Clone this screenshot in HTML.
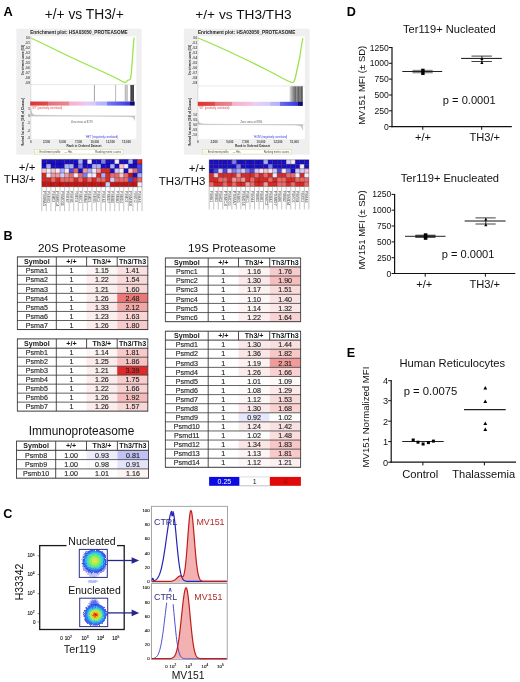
<!DOCTYPE html>
<html><head><meta charset="utf-8"><title>Figure</title>
<style>
html,body{margin:0;padding:0;background:#fff;}
body{width:520px;height:682px;overflow:hidden;}
svg{display:block;will-change:transform;font-family:"Liberation Sans",sans-serif;}
</style></head><body>
<svg width="520" height="682" viewBox="0 0 520 682">
<rect x="0" y="0" width="520" height="682" fill="#ffffff"/>
<g id="panelA">
<text x="3.4" y="16.0" font-size="12.8" text-anchor="start" font-weight="bold" fill="#000" >A</text>
<text x="84.2" y="19.0" font-size="13.8" text-anchor="middle" font-weight="normal" fill="#111" >+/+ vs TH3/+</text>
<text x="243.5" y="19.0" font-size="13.7" text-anchor="middle" font-weight="normal" fill="#111" >+/+ vs TH3/TH3</text>
<rect x="16.3" y="28.7" width="125.3" height="126" fill="#efefef"/>
<rect x="30.8" y="36.3" width="105.50000000000001" height="102.7" fill="#ffffff"/>
<text x="30.2" y="33.6" font-size="4.7" font-weight="bold" fill="#222" textLength="97.5" lengthAdjust="spacingAndGlyphs">Enrichment plot: HSA03050_PROTEASOME</text>
<line x1="30.8" y1="84.6" x2="136.3" y2="84.6" stroke="#d8d8d8" stroke-width="0.6"/>
<line x1="30.8" y1="36.3" x2="30.8" y2="139" stroke="#c8c8c8" stroke-width="0.6"/>
<polyline points="31,38 40,42.3 60,52 80,61.5 100,70.5 115,77.5 121,80.8 124.8,82.6 126.5,81.8 127.8,80.2 129.3,80 130.6,78.6 131.4,72 132.2,62 133,50 133.8,40 134.3,37.6" fill="none" stroke="#96e446" stroke-width="1.25" stroke-linejoin="round"/>
<line x1="94.4" y1="85" x2="94.4" y2="101.5" stroke="#444" stroke-width="0.5"/>
<line x1="115.6" y1="85" x2="115.6" y2="101.5" stroke="#777" stroke-width="0.5"/>
<rect x="124.8" y="85" width="3.2" height="16.5" fill="#c8c8c8"/>
<line x1="125.2" y1="85" x2="125.2" y2="101.5" stroke="#999" stroke-width="0.4"/>
<rect x="130.4" y="85" width="3.6" height="16.5" fill="#55555a"/>
<line x1="131.2" y1="85" x2="131.2" y2="101.5" stroke="#222" stroke-width="0.5"/>
<line x1="133.2" y1="85" x2="133.2" y2="101.5" stroke="#222" stroke-width="0.5"/>
<defs><linearGradient id="barL" x1="0" x2="1" y1="0" y2="0"><stop offset="0.000" stop-color="#dc3434"/><stop offset="0.172" stop-color="#e04c4c"/><stop offset="0.172" stop-color="#e4707c"/><stop offset="0.371" stop-color="#e88892"/><stop offset="0.371" stop-color="#f4b0cc"/><stop offset="0.514" stop-color="#f4c0e0"/><stop offset="0.514" stop-color="#e4ccf4"/><stop offset="0.625" stop-color="#d4c8f8"/><stop offset="0.625" stop-color="#c0bcfa"/><stop offset="0.736" stop-color="#b0b0fa"/><stop offset="0.736" stop-color="#7c7cf2"/><stop offset="0.956" stop-color="#3838e0"/><stop offset="0.956" stop-color="#101088"/><stop offset="1.000" stop-color="#08086a"/></linearGradient></defs>
<rect x="30.2" y="101.5" width="104.5" height="4.1" fill="url(#barL)"/>
<path d="M30.8,116 L30.8,107.5 C31.3,113 32,114.6 36,115.2 L60,115.7 L95,116 L125,116.4 L131,116.8 C133.5,117.2 134.3,118.5 134.6,120.4 L134.6,116 Z" fill="#c4c4c4" stroke="#a8a8a8" stroke-width="0.3"/>
<line x1="30.8" y1="116" x2="136.3" y2="116" stroke="#cfcfcf" stroke-width="0.5"/>
<text x="31.8" y="108.6" font-size="2.6" fill="#e04040">'WT' (positively correlated)</text>
<text x="85.4" y="137.6" font-size="2.6" fill="#3030e0">'HET' (negatively correlated)</text>
<text x="71" y="123" font-size="2.6" fill="#555">Zero cross at 8179</text>
<text x="29.8" y="39.4" font-size="2.7" font-weight="bold" text-anchor="end" fill="#333">0.0</text>
<text x="29.8" y="44.4" font-size="2.7" font-weight="bold" text-anchor="end" fill="#333">-0.1</text>
<text x="29.8" y="49.4" font-size="2.7" font-weight="bold" text-anchor="end" fill="#333">-0.2</text>
<text x="29.8" y="54.4" font-size="2.7" font-weight="bold" text-anchor="end" fill="#333">-0.3</text>
<text x="29.8" y="59.4" font-size="2.7" font-weight="bold" text-anchor="end" fill="#333">-0.4</text>
<text x="29.8" y="64.4" font-size="2.7" font-weight="bold" text-anchor="end" fill="#333">-0.5</text>
<text x="29.8" y="69.39999999999999" font-size="2.7" font-weight="bold" text-anchor="end" fill="#333">-0.6</text>
<text x="29.8" y="74.39999999999999" font-size="2.7" font-weight="bold" text-anchor="end" fill="#333">-0.7</text>
<text x="29.8" y="79.39999999999999" font-size="2.7" font-weight="bold" text-anchor="end" fill="#333">-0.8</text>
<text x="29.8" y="84.39999999999999" font-size="2.7" font-weight="bold" text-anchor="end" fill="#333">-0.9</text>
<text x="29.8" y="109.50" font-size="2.7" font-weight="bold" text-anchor="end" fill="#333">1</text>
<text x="29.8" y="116.90" font-size="2.7" font-weight="bold" text-anchor="end" fill="#333">0</text>
<text x="29.8" y="124.30" font-size="2.7" font-weight="bold" text-anchor="end" fill="#333">-1</text>
<text x="29.8" y="131.70" font-size="2.7" font-weight="bold" text-anchor="end" fill="#333">-2</text>
<text x="29.8" y="139.10" font-size="2.7" font-weight="bold" text-anchor="end" fill="#333">-3</text>
<text transform="translate(23.8,60) rotate(-90)" font-size="2.8" font-weight="bold" text-anchor="middle" fill="#222">Enrichment score (ES)</text>
<text transform="translate(23.8,122) rotate(-90)" font-size="2.8" font-weight="bold" text-anchor="middle" fill="#222">Ranked list metric (Diff_of_Classes)</text>
<text x="30.8" y="142.6" font-size="2.9" font-weight="bold" text-anchor="middle" fill="#444">0</text>
<text x="46.5" y="142.6" font-size="2.9" font-weight="bold" text-anchor="middle" fill="#444">2,500</text>
<text x="62.5" y="142.6" font-size="2.9" font-weight="bold" text-anchor="middle" fill="#444">5,000</text>
<text x="78.5" y="142.6" font-size="2.9" font-weight="bold" text-anchor="middle" fill="#444">7,500</text>
<text x="94.8" y="142.6" font-size="2.9" font-weight="bold" text-anchor="middle" fill="#444">10,000</text>
<text x="110.5" y="142.6" font-size="2.9" font-weight="bold" text-anchor="middle" fill="#444">12,500</text>
<text x="126.5" y="142.6" font-size="2.9" font-weight="bold" text-anchor="middle" fill="#444">15,000</text>
<text x="84" y="146.8" font-size="3.0" font-weight="bold" text-anchor="middle" fill="#333">Rank in Ordered Dataset</text>
<rect x="34.6" y="149.6" width="88.4" height="4.4" fill="#ffffff" stroke="#d8d48a" stroke-width="0.5"/>
<text x="39.6" y="153" font-size="2.6" fill="#444">Enrichment profile</text>
<line x1="35.6" y1="152" x2="38.6" y2="152" stroke="#8ee23a" stroke-width="0.5"/>
<text x="64.6" y="153" font-size="2.6" fill="#444">— Hits</text>
<text x="121" y="153" font-size="2.6" fill="#444" text-anchor="end">Ranking metric scores</text>
<rect x="183.8" y="28.7" width="125.80000000000001" height="126" fill="#efefef"/>
<rect x="197.9" y="36.3" width="106.9" height="102.7" fill="#ffffff"/>
<text x="197.9" y="33.6" font-size="4.7" font-weight="bold" fill="#222" textLength="97.5" lengthAdjust="spacingAndGlyphs">Enrichment plot: HSA03050_PROTEASOME</text>
<line x1="197.9" y1="86.0" x2="304.8" y2="86.0" stroke="#d8d8d8" stroke-width="0.6"/>
<line x1="197.9" y1="36.3" x2="197.9" y2="139" stroke="#c8c8c8" stroke-width="0.6"/>
<polyline points="198,38 210,43 230,52 250,61.5 270,71.5 283,78.5 288,81 291,82.3 293,82.5 294.2,81.2 295.5,77 297,70 298.5,63 299.8,57 300.8,50 301.8,44 302.5,40 302.9,38.2" fill="none" stroke="#96e446" stroke-width="1.25" stroke-linejoin="round"/>
<defs><linearGradient id="hitR" x1="0" x2="1" y1="0" y2="0">
<stop offset="0" stop-color="#e8e8e8"/><stop offset="0.12" stop-color="#bdbdbd"/><stop offset="0.3" stop-color="#8c8c8c"/><stop offset="0.45" stop-color="#6a6a6a"/><stop offset="0.55" stop-color="#9a9a9a"/><stop offset="0.65" stop-color="#5c5c5c"/><stop offset="0.8" stop-color="#8a8a8a"/><stop offset="0.9" stop-color="#5a5a5a"/><stop offset="1" stop-color="#7a7a7a"/></linearGradient></defs>
<rect x="289.4" y="86.3" width="13.5" height="15.7" fill="url(#hitR)"/>
<defs><linearGradient id="barR" x1="0" x2="1" y1="0" y2="0"><stop offset="0.000" stop-color="#dc3434"/><stop offset="0.164" stop-color="#e04c4c"/><stop offset="0.164" stop-color="#e4707c"/><stop offset="0.321" stop-color="#e88892"/><stop offset="0.321" stop-color="#f4b0c8"/><stop offset="0.521" stop-color="#f4c4e0"/><stop offset="0.521" stop-color="#e8d0f4"/><stop offset="0.692" stop-color="#d4ccf8"/><stop offset="0.692" stop-color="#c0bcfa"/><stop offset="0.785" stop-color="#b0b0fa"/><stop offset="0.785" stop-color="#6c6cf0"/><stop offset="0.956" stop-color="#3434e0"/><stop offset="0.956" stop-color="#101088"/><stop offset="1.000" stop-color="#08086a"/></linearGradient></defs>
<rect x="197.8" y="101.8" width="105" height="4.1" fill="url(#barR)"/>
<path d="M197.9,124.6 L197.9,119.5 C198.6,122.5 199.5,123.6 204,124 L230,124.4 L270,124.7 L295,125 L299,125.4 C301.5,126 302.4,127.5 302.7,130 L302.7,124.6 Z" fill="#c4c4c4" stroke="#a8a8a8" stroke-width="0.3"/>
<line x1="197.9" y1="124.6" x2="304.8" y2="124.6" stroke="#cfcfcf" stroke-width="0.5"/>
<text x="198.9" y="108.6" font-size="2.6" fill="#e04040">'WT' (positively correlated)</text>
<text x="253.8" y="137.6" font-size="2.6" fill="#3030e0">'HOM' (negatively correlated)</text>
<text x="240.6" y="123" font-size="2.6" fill="#555">Zero cross at 8590</text>
<text x="196.9" y="39.4" font-size="2.7" font-weight="bold" text-anchor="end" fill="#333">0.0</text>
<text x="196.9" y="44.4" font-size="2.7" font-weight="bold" text-anchor="end" fill="#333">-0.1</text>
<text x="196.9" y="49.4" font-size="2.7" font-weight="bold" text-anchor="end" fill="#333">-0.2</text>
<text x="196.9" y="54.4" font-size="2.7" font-weight="bold" text-anchor="end" fill="#333">-0.3</text>
<text x="196.9" y="59.4" font-size="2.7" font-weight="bold" text-anchor="end" fill="#333">-0.4</text>
<text x="196.9" y="64.4" font-size="2.7" font-weight="bold" text-anchor="end" fill="#333">-0.5</text>
<text x="196.9" y="69.39999999999999" font-size="2.7" font-weight="bold" text-anchor="end" fill="#333">-0.6</text>
<text x="196.9" y="74.39999999999999" font-size="2.7" font-weight="bold" text-anchor="end" fill="#333">-0.7</text>
<text x="196.9" y="79.39999999999999" font-size="2.7" font-weight="bold" text-anchor="end" fill="#333">-0.8</text>
<text x="196.9" y="84.39999999999999" font-size="2.7" font-weight="bold" text-anchor="end" fill="#333">-0.9</text>
<text x="196.9" y="115.50" font-size="2.7" font-weight="bold" text-anchor="end" fill="#333">1.0</text>
<text x="196.9" y="120.50" font-size="2.7" font-weight="bold" text-anchor="end" fill="#333">0.5</text>
<text x="196.9" y="125.50" font-size="2.7" font-weight="bold" text-anchor="end" fill="#333">0.0</text>
<text x="196.9" y="130.50" font-size="2.7" font-weight="bold" text-anchor="end" fill="#333">-0.5</text>
<text x="196.9" y="135.50" font-size="2.7" font-weight="bold" text-anchor="end" fill="#333">-1.0</text>
<text transform="translate(190.9,60) rotate(-90)" font-size="2.8" font-weight="bold" text-anchor="middle" fill="#222">Enrichment score (ES)</text>
<text transform="translate(190.9,122) rotate(-90)" font-size="2.8" font-weight="bold" text-anchor="middle" fill="#222">Ranked list metric (Diff_of_Classes)</text>
<text x="197.9" y="142.6" font-size="2.9" font-weight="bold" text-anchor="middle" fill="#444">0</text>
<text x="214" y="142.6" font-size="2.9" font-weight="bold" text-anchor="middle" fill="#444">2,500</text>
<text x="229.8" y="142.6" font-size="2.9" font-weight="bold" text-anchor="middle" fill="#444">5,000</text>
<text x="245.6" y="142.6" font-size="2.9" font-weight="bold" text-anchor="middle" fill="#444">7,500</text>
<text x="261" y="142.6" font-size="2.9" font-weight="bold" text-anchor="middle" fill="#444">10,000</text>
<text x="278" y="142.6" font-size="2.9" font-weight="bold" text-anchor="middle" fill="#444">12,500</text>
<text x="294.4" y="142.6" font-size="2.9" font-weight="bold" text-anchor="middle" fill="#444">15,000</text>
<text x="252.6" y="146.8" font-size="3.0" font-weight="bold" text-anchor="middle" fill="#333">Rank in Ordered Dataset</text>
<rect x="202.7" y="149.6" width="88.60000000000002" height="4.4" fill="#ffffff" stroke="#d8d48a" stroke-width="0.5"/>
<text x="207.7" y="153" font-size="2.6" fill="#444">Enrichment profile</text>
<line x1="203.7" y1="152" x2="206.7" y2="152" stroke="#8ee23a" stroke-width="0.5"/>
<text x="232.7" y="153" font-size="2.6" fill="#444">— Hits</text>
<text x="289.3" y="153" font-size="2.6" fill="#444" text-anchor="end">Ranking metric scores</text>
<rect x="41.80" y="159.40" width="4.60" height="4.60" fill="#1a0fc4"/>
<rect x="46.35" y="159.40" width="4.60" height="4.60" fill="#1a0fc4"/>
<rect x="50.91" y="159.40" width="4.60" height="4.60" fill="#1a0fc4"/>
<rect x="55.46" y="159.40" width="4.60" height="4.60" fill="#1a0fc4"/>
<rect x="60.02" y="159.40" width="4.60" height="4.60" fill="#1a0fc4"/>
<rect x="64.57" y="159.40" width="4.60" height="4.60" fill="#1a0fc4"/>
<rect x="69.13" y="159.40" width="4.60" height="4.60" fill="#1a0fc4"/>
<rect x="73.69" y="159.40" width="4.60" height="4.60" fill="#1a0fc4"/>
<rect x="78.24" y="159.40" width="4.60" height="4.60" fill="#a9b0fa"/>
<rect x="82.79" y="159.40" width="4.60" height="4.60" fill="#1a0fc4"/>
<rect x="87.35" y="159.40" width="4.60" height="4.60" fill="#f4ecf8"/>
<rect x="91.91" y="159.40" width="4.60" height="4.60" fill="#1a0fc4"/>
<rect x="96.46" y="159.40" width="4.60" height="4.60" fill="#1a0fc4"/>
<rect x="101.01" y="159.40" width="4.60" height="4.60" fill="#7b7df0"/>
<rect x="105.57" y="159.40" width="4.60" height="4.60" fill="#1a0fc4"/>
<rect x="110.12" y="159.40" width="4.60" height="4.60" fill="#1a0fc4"/>
<rect x="114.68" y="159.40" width="4.60" height="4.60" fill="#f4ecf8"/>
<rect x="119.23" y="159.40" width="4.60" height="4.60" fill="#1a0fc4"/>
<rect x="123.79" y="159.40" width="4.60" height="4.60" fill="#1a0fc4"/>
<rect x="128.34" y="159.40" width="4.60" height="4.60" fill="#a9b0fa"/>
<rect x="132.90" y="159.40" width="4.60" height="4.60" fill="#1a0fc4"/>
<rect x="137.45" y="159.40" width="4.60" height="4.60" fill="#dc2a22"/>
<rect x="41.80" y="163.95" width="4.60" height="4.60" fill="#1a0fc4"/>
<rect x="46.35" y="163.95" width="4.60" height="4.60" fill="#a9b0fa"/>
<rect x="50.91" y="163.95" width="4.60" height="4.60" fill="#1a0fc4"/>
<rect x="55.46" y="163.95" width="4.60" height="4.60" fill="#1a0fc4"/>
<rect x="60.02" y="163.95" width="4.60" height="4.60" fill="#1a0fc4"/>
<rect x="64.57" y="163.95" width="4.60" height="4.60" fill="#a9b0fa"/>
<rect x="69.13" y="163.95" width="4.60" height="4.60" fill="#a9b0fa"/>
<rect x="73.69" y="163.95" width="4.60" height="4.60" fill="#1a0fc4"/>
<rect x="78.24" y="163.95" width="4.60" height="4.60" fill="#7b7df0"/>
<rect x="82.79" y="163.95" width="4.60" height="4.60" fill="#1a0fc4"/>
<rect x="87.35" y="163.95" width="4.60" height="4.60" fill="#1a0fc4"/>
<rect x="91.91" y="163.95" width="4.60" height="4.60" fill="#a9b0fa"/>
<rect x="96.46" y="163.95" width="4.60" height="4.60" fill="#a9b0fa"/>
<rect x="101.01" y="163.95" width="4.60" height="4.60" fill="#1a0fc4"/>
<rect x="105.57" y="163.95" width="4.60" height="4.60" fill="#1a0fc4"/>
<rect x="110.12" y="163.95" width="4.60" height="4.60" fill="#a9b0fa"/>
<rect x="114.68" y="163.95" width="4.60" height="4.60" fill="#1a0fc4"/>
<rect x="119.23" y="163.95" width="4.60" height="4.60" fill="#f6c6cc"/>
<rect x="123.79" y="163.95" width="4.60" height="4.60" fill="#f4ecf8"/>
<rect x="128.34" y="163.95" width="4.60" height="4.60" fill="#1a0fc4"/>
<rect x="132.90" y="163.95" width="4.60" height="4.60" fill="#1a0fc4"/>
<rect x="137.45" y="163.95" width="4.60" height="4.60" fill="#4a49e0"/>
<rect x="41.80" y="168.50" width="4.60" height="4.60" fill="#f6c6cc"/>
<rect x="46.35" y="168.50" width="4.60" height="4.60" fill="#f4ecf8"/>
<rect x="50.91" y="168.50" width="4.60" height="4.60" fill="#f6c6cc"/>
<rect x="55.46" y="168.50" width="4.60" height="4.60" fill="#f4ecf8"/>
<rect x="60.02" y="168.50" width="4.60" height="4.60" fill="#a9b0fa"/>
<rect x="64.57" y="168.50" width="4.60" height="4.60" fill="#f4ecf8"/>
<rect x="69.13" y="168.50" width="4.60" height="4.60" fill="#4a49e0"/>
<rect x="73.69" y="168.50" width="4.60" height="4.60" fill="#ec6a66"/>
<rect x="78.24" y="168.50" width="4.60" height="4.60" fill="#1a0fc4"/>
<rect x="82.79" y="168.50" width="4.60" height="4.60" fill="#f09a9a"/>
<rect x="87.35" y="168.50" width="4.60" height="4.60" fill="#a9b0fa"/>
<rect x="91.91" y="168.50" width="4.60" height="4.60" fill="#f4ecf8"/>
<rect x="96.46" y="168.50" width="4.60" height="4.60" fill="#f09a9a"/>
<rect x="101.01" y="168.50" width="4.60" height="4.60" fill="#dc2a22"/>
<rect x="105.57" y="168.50" width="4.60" height="4.60" fill="#dc2a22"/>
<rect x="110.12" y="168.50" width="4.60" height="4.60" fill="#1a0fc4"/>
<rect x="114.68" y="168.50" width="4.60" height="4.60" fill="#d4cdf8"/>
<rect x="119.23" y="168.50" width="4.60" height="4.60" fill="#f4ecf8"/>
<rect x="123.79" y="168.50" width="4.60" height="4.60" fill="#1a0fc4"/>
<rect x="128.34" y="168.50" width="4.60" height="4.60" fill="#f6c6cc"/>
<rect x="132.90" y="168.50" width="4.60" height="4.60" fill="#ec6a66"/>
<rect x="137.45" y="168.50" width="4.60" height="4.60" fill="#4a49e0"/>
<rect x="41.80" y="173.05" width="4.60" height="4.60" fill="#dc2a22"/>
<rect x="46.35" y="173.05" width="4.60" height="4.60" fill="#f4ecf8"/>
<rect x="50.91" y="173.05" width="4.60" height="4.60" fill="#f09a9a"/>
<rect x="55.46" y="173.05" width="4.60" height="4.60" fill="#f09a9a"/>
<rect x="60.02" y="173.05" width="4.60" height="4.60" fill="#d4cdf8"/>
<rect x="64.57" y="173.05" width="4.60" height="4.60" fill="#f09a9a"/>
<rect x="69.13" y="173.05" width="4.60" height="4.60" fill="#ec6a66"/>
<rect x="73.69" y="173.05" width="4.60" height="4.60" fill="#f4ecf8"/>
<rect x="78.24" y="173.05" width="4.60" height="4.60" fill="#ec6a66"/>
<rect x="82.79" y="173.05" width="4.60" height="4.60" fill="#7b7df0"/>
<rect x="87.35" y="173.05" width="4.60" height="4.60" fill="#f4ecf8"/>
<rect x="91.91" y="173.05" width="4.60" height="4.60" fill="#f4ecf8"/>
<rect x="96.46" y="173.05" width="4.60" height="4.60" fill="#dc2a22"/>
<rect x="101.01" y="173.05" width="4.60" height="4.60" fill="#a9b0fa"/>
<rect x="105.57" y="173.05" width="4.60" height="4.60" fill="#dc2a22"/>
<rect x="110.12" y="173.05" width="4.60" height="4.60" fill="#ec6a66"/>
<rect x="114.68" y="173.05" width="4.60" height="4.60" fill="#ec6a66"/>
<rect x="119.23" y="173.05" width="4.60" height="4.60" fill="#f6c6cc"/>
<rect x="123.79" y="173.05" width="4.60" height="4.60" fill="#ec6a66"/>
<rect x="128.34" y="173.05" width="4.60" height="4.60" fill="#c8140c"/>
<rect x="132.90" y="173.05" width="4.60" height="4.60" fill="#1a0fc4"/>
<rect x="137.45" y="173.05" width="4.60" height="4.60" fill="#a9b0fa"/>
<rect x="41.80" y="177.60" width="4.60" height="4.60" fill="#dc2a22"/>
<rect x="46.35" y="177.60" width="4.60" height="4.60" fill="#dc2a22"/>
<rect x="50.91" y="177.60" width="4.60" height="4.60" fill="#ec6a66"/>
<rect x="55.46" y="177.60" width="4.60" height="4.60" fill="#dc2a22"/>
<rect x="60.02" y="177.60" width="4.60" height="4.60" fill="#ec6a66"/>
<rect x="64.57" y="177.60" width="4.60" height="4.60" fill="#ec6a66"/>
<rect x="69.13" y="177.60" width="4.60" height="4.60" fill="#ec6a66"/>
<rect x="73.69" y="177.60" width="4.60" height="4.60" fill="#dc2a22"/>
<rect x="78.24" y="177.60" width="4.60" height="4.60" fill="#ec6a66"/>
<rect x="82.79" y="177.60" width="4.60" height="4.60" fill="#dc2a22"/>
<rect x="87.35" y="177.60" width="4.60" height="4.60" fill="#ec6a66"/>
<rect x="91.91" y="177.60" width="4.60" height="4.60" fill="#dc2a22"/>
<rect x="96.46" y="177.60" width="4.60" height="4.60" fill="#ec6a66"/>
<rect x="101.01" y="177.60" width="4.60" height="4.60" fill="#ec6a66"/>
<rect x="105.57" y="177.60" width="4.60" height="4.60" fill="#dc2a22"/>
<rect x="110.12" y="177.60" width="4.60" height="4.60" fill="#d4cdf8"/>
<rect x="114.68" y="177.60" width="4.60" height="4.60" fill="#ec6a66"/>
<rect x="119.23" y="177.60" width="4.60" height="4.60" fill="#ec6a66"/>
<rect x="123.79" y="177.60" width="4.60" height="4.60" fill="#ec6a66"/>
<rect x="128.34" y="177.60" width="4.60" height="4.60" fill="#4a49e0"/>
<rect x="132.90" y="177.60" width="4.60" height="4.60" fill="#dc2a22"/>
<rect x="137.45" y="177.60" width="4.60" height="4.60" fill="#ec6a66"/>
<rect x="41.80" y="182.15" width="4.60" height="4.60" fill="#c8140c"/>
<rect x="46.35" y="182.15" width="4.60" height="4.60" fill="#c8140c"/>
<rect x="50.91" y="182.15" width="4.60" height="4.60" fill="#c8140c"/>
<rect x="55.46" y="182.15" width="4.60" height="4.60" fill="#c8140c"/>
<rect x="60.02" y="182.15" width="4.60" height="4.60" fill="#c8140c"/>
<rect x="64.57" y="182.15" width="4.60" height="4.60" fill="#c8140c"/>
<rect x="69.13" y="182.15" width="4.60" height="4.60" fill="#c8140c"/>
<rect x="73.69" y="182.15" width="4.60" height="4.60" fill="#c8140c"/>
<rect x="78.24" y="182.15" width="4.60" height="4.60" fill="#c8140c"/>
<rect x="82.79" y="182.15" width="4.60" height="4.60" fill="#c8140c"/>
<rect x="87.35" y="182.15" width="4.60" height="4.60" fill="#c8140c"/>
<rect x="91.91" y="182.15" width="4.60" height="4.60" fill="#c8140c"/>
<rect x="96.46" y="182.15" width="4.60" height="4.60" fill="#c8140c"/>
<rect x="101.01" y="182.15" width="4.60" height="4.60" fill="#c8140c"/>
<rect x="105.57" y="182.15" width="4.60" height="4.60" fill="#d4cdf8"/>
<rect x="110.12" y="182.15" width="4.60" height="4.60" fill="#c8140c"/>
<rect x="114.68" y="182.15" width="4.60" height="4.60" fill="#c8140c"/>
<rect x="119.23" y="182.15" width="4.60" height="4.60" fill="#c8140c"/>
<rect x="123.79" y="182.15" width="4.60" height="4.60" fill="#c8140c"/>
<rect x="128.34" y="182.15" width="4.60" height="4.60" fill="#c8140c"/>
<rect x="132.90" y="182.15" width="4.60" height="4.60" fill="#c8140c"/>
<rect x="137.45" y="182.15" width="4.60" height="4.60" fill="#f4ecf8"/>
<line x1="41.80" y1="159.4" x2="41.80" y2="186.7" stroke="#0c0020" stroke-opacity="0.55" stroke-width="0.55"/>
<line x1="46.35" y1="159.4" x2="46.35" y2="186.7" stroke="#0c0020" stroke-opacity="0.55" stroke-width="0.55"/>
<line x1="50.91" y1="159.4" x2="50.91" y2="186.7" stroke="#0c0020" stroke-opacity="0.55" stroke-width="0.55"/>
<line x1="55.46" y1="159.4" x2="55.46" y2="186.7" stroke="#0c0020" stroke-opacity="0.55" stroke-width="0.55"/>
<line x1="60.02" y1="159.4" x2="60.02" y2="186.7" stroke="#0c0020" stroke-opacity="0.55" stroke-width="0.55"/>
<line x1="64.57" y1="159.4" x2="64.57" y2="186.7" stroke="#0c0020" stroke-opacity="0.55" stroke-width="0.55"/>
<line x1="69.13" y1="159.4" x2="69.13" y2="186.7" stroke="#0c0020" stroke-opacity="0.55" stroke-width="0.55"/>
<line x1="73.69" y1="159.4" x2="73.69" y2="186.7" stroke="#0c0020" stroke-opacity="0.55" stroke-width="0.55"/>
<line x1="78.24" y1="159.4" x2="78.24" y2="186.7" stroke="#0c0020" stroke-opacity="0.55" stroke-width="0.55"/>
<line x1="82.79" y1="159.4" x2="82.79" y2="186.7" stroke="#0c0020" stroke-opacity="0.55" stroke-width="0.55"/>
<line x1="87.35" y1="159.4" x2="87.35" y2="186.7" stroke="#0c0020" stroke-opacity="0.55" stroke-width="0.55"/>
<line x1="91.91" y1="159.4" x2="91.91" y2="186.7" stroke="#0c0020" stroke-opacity="0.55" stroke-width="0.55"/>
<line x1="96.46" y1="159.4" x2="96.46" y2="186.7" stroke="#0c0020" stroke-opacity="0.55" stroke-width="0.55"/>
<line x1="101.01" y1="159.4" x2="101.01" y2="186.7" stroke="#0c0020" stroke-opacity="0.55" stroke-width="0.55"/>
<line x1="105.57" y1="159.4" x2="105.57" y2="186.7" stroke="#0c0020" stroke-opacity="0.55" stroke-width="0.55"/>
<line x1="110.12" y1="159.4" x2="110.12" y2="186.7" stroke="#0c0020" stroke-opacity="0.55" stroke-width="0.55"/>
<line x1="114.68" y1="159.4" x2="114.68" y2="186.7" stroke="#0c0020" stroke-opacity="0.55" stroke-width="0.55"/>
<line x1="119.23" y1="159.4" x2="119.23" y2="186.7" stroke="#0c0020" stroke-opacity="0.55" stroke-width="0.55"/>
<line x1="123.79" y1="159.4" x2="123.79" y2="186.7" stroke="#0c0020" stroke-opacity="0.55" stroke-width="0.55"/>
<line x1="128.34" y1="159.4" x2="128.34" y2="186.7" stroke="#0c0020" stroke-opacity="0.55" stroke-width="0.55"/>
<line x1="132.90" y1="159.4" x2="132.90" y2="186.7" stroke="#0c0020" stroke-opacity="0.55" stroke-width="0.55"/>
<line x1="137.45" y1="159.4" x2="137.45" y2="186.7" stroke="#0c0020" stroke-opacity="0.55" stroke-width="0.55"/>
<line x1="142.01" y1="159.4" x2="142.01" y2="186.7" stroke="#0c0020" stroke-opacity="0.55" stroke-width="0.55"/>
<line x1="41.8" y1="159.40" x2="142.01" y2="159.40" stroke="#0c0020" stroke-opacity="0.55" stroke-width="0.55"/>
<line x1="41.8" y1="163.95" x2="142.01" y2="163.95" stroke="#0c0020" stroke-opacity="0.55" stroke-width="0.55"/>
<line x1="41.8" y1="168.50" x2="142.01" y2="168.50" stroke="#0c0020" stroke-opacity="0.55" stroke-width="0.55"/>
<line x1="41.8" y1="173.05" x2="142.01" y2="173.05" stroke="#0c0020" stroke-opacity="0.55" stroke-width="0.55"/>
<line x1="41.8" y1="177.60" x2="142.01" y2="177.60" stroke="#0c0020" stroke-opacity="0.55" stroke-width="0.55"/>
<line x1="41.8" y1="182.15" x2="142.01" y2="182.15" stroke="#0c0020" stroke-opacity="0.55" stroke-width="0.55"/>
<line x1="41.8" y1="186.70" x2="142.01" y2="186.70" stroke="#0c0020" stroke-opacity="0.55" stroke-width="0.55"/>
<line x1="41.80" y1="186.7" x2="41.80" y2="211.2" stroke="#9c9c9c" stroke-width="0.6"/>
<line x1="46.35" y1="186.7" x2="46.35" y2="211.2" stroke="#9c9c9c" stroke-width="0.6"/>
<line x1="50.91" y1="186.7" x2="50.91" y2="211.2" stroke="#9c9c9c" stroke-width="0.6"/>
<line x1="55.46" y1="186.7" x2="55.46" y2="211.2" stroke="#9c9c9c" stroke-width="0.6"/>
<line x1="60.02" y1="186.7" x2="60.02" y2="211.2" stroke="#9c9c9c" stroke-width="0.6"/>
<line x1="64.57" y1="186.7" x2="64.57" y2="211.2" stroke="#9c9c9c" stroke-width="0.6"/>
<line x1="69.13" y1="186.7" x2="69.13" y2="211.2" stroke="#9c9c9c" stroke-width="0.6"/>
<line x1="73.69" y1="186.7" x2="73.69" y2="211.2" stroke="#9c9c9c" stroke-width="0.6"/>
<line x1="78.24" y1="186.7" x2="78.24" y2="211.2" stroke="#9c9c9c" stroke-width="0.6"/>
<line x1="82.79" y1="186.7" x2="82.79" y2="211.2" stroke="#9c9c9c" stroke-width="0.6"/>
<line x1="87.35" y1="186.7" x2="87.35" y2="211.2" stroke="#9c9c9c" stroke-width="0.6"/>
<line x1="91.91" y1="186.7" x2="91.91" y2="211.2" stroke="#9c9c9c" stroke-width="0.6"/>
<line x1="96.46" y1="186.7" x2="96.46" y2="211.2" stroke="#9c9c9c" stroke-width="0.6"/>
<line x1="101.01" y1="186.7" x2="101.01" y2="211.2" stroke="#9c9c9c" stroke-width="0.6"/>
<line x1="105.57" y1="186.7" x2="105.57" y2="211.2" stroke="#9c9c9c" stroke-width="0.6"/>
<line x1="110.12" y1="186.7" x2="110.12" y2="211.2" stroke="#9c9c9c" stroke-width="0.6"/>
<line x1="114.68" y1="186.7" x2="114.68" y2="211.2" stroke="#9c9c9c" stroke-width="0.6"/>
<line x1="119.23" y1="186.7" x2="119.23" y2="211.2" stroke="#9c9c9c" stroke-width="0.6"/>
<line x1="123.79" y1="186.7" x2="123.79" y2="211.2" stroke="#9c9c9c" stroke-width="0.6"/>
<line x1="128.34" y1="186.7" x2="128.34" y2="211.2" stroke="#9c9c9c" stroke-width="0.6"/>
<line x1="132.90" y1="186.7" x2="132.90" y2="211.2" stroke="#9c9c9c" stroke-width="0.6"/>
<line x1="137.45" y1="186.7" x2="137.45" y2="211.2" stroke="#9c9c9c" stroke-width="0.6"/>
<line x1="142.01" y1="186.7" x2="142.01" y2="211.2" stroke="#9c9c9c" stroke-width="0.6"/>
<text transform="translate(42.83,191.1) rotate(90)" font-size="3.5" font-weight="bold" fill="#828282" textLength="15.2" lengthAdjust="spacingAndGlyphs">PSMA1</text>
<text transform="translate(47.38,191.1) rotate(90)" font-size="3.5" font-weight="bold" fill="#828282" textLength="11.7" lengthAdjust="spacingAndGlyphs">PSMB3</text>
<text transform="translate(51.94,191.1) rotate(90)" font-size="3.5" font-weight="bold" fill="#828282" textLength="11.1" lengthAdjust="spacingAndGlyphs">PSMD2</text>
<text transform="translate(56.49,191.1) rotate(90)" font-size="3.5" font-weight="bold" fill="#828282" textLength="15.5" lengthAdjust="spacingAndGlyphs">PSMC4</text>
<text transform="translate(61.05,191.1) rotate(90)" font-size="3.5" font-weight="bold" fill="#828282" textLength="14.8" lengthAdjust="spacingAndGlyphs">PSMD11</text>
<text transform="translate(65.60,191.1) rotate(90)" font-size="3.5" font-weight="bold" fill="#828282" textLength="11.6" lengthAdjust="spacingAndGlyphs">PSMA7</text>
<text transform="translate(70.16,191.1) rotate(90)" font-size="3.5" font-weight="bold" fill="#828282" textLength="11.6" lengthAdjust="spacingAndGlyphs">PSMB5</text>
<text transform="translate(74.71,191.1) rotate(90)" font-size="3.5" font-weight="bold" fill="#828282" textLength="11.2" lengthAdjust="spacingAndGlyphs">PSMD14</text>
<text transform="translate(79.27,191.1) rotate(90)" font-size="3.5" font-weight="bold" fill="#828282" textLength="12.0" lengthAdjust="spacingAndGlyphs">PSMC1</text>
<text transform="translate(83.82,191.1) rotate(90)" font-size="3.5" font-weight="bold" fill="#828282" textLength="11.9" lengthAdjust="spacingAndGlyphs">PSMA4</text>
<text transform="translate(88.38,191.1) rotate(90)" font-size="3.5" font-weight="bold" fill="#828282" textLength="11.1" lengthAdjust="spacingAndGlyphs">PSMD3</text>
<text transform="translate(92.93,191.1) rotate(90)" font-size="3.5" font-weight="bold" fill="#828282" textLength="11.7" lengthAdjust="spacingAndGlyphs">PSMB1</text>
<text transform="translate(97.49,191.1) rotate(90)" font-size="3.5" font-weight="bold" fill="#828282" textLength="11.0" lengthAdjust="spacingAndGlyphs">PSMC2</text>
<text transform="translate(102.04,191.1) rotate(90)" font-size="3.5" font-weight="bold" fill="#828282" textLength="11.6" lengthAdjust="spacingAndGlyphs">PSMA5</text>
<text transform="translate(106.60,191.1) rotate(90)" font-size="3.5" font-weight="bold" fill="#828282" textLength="12.1" lengthAdjust="spacingAndGlyphs">PSMD7</text>
<text transform="translate(111.15,191.1) rotate(90)" font-size="3.5" font-weight="bold" fill="#828282" textLength="12.1" lengthAdjust="spacingAndGlyphs">PSMB6</text>
<text transform="translate(115.71,191.1) rotate(90)" font-size="3.5" font-weight="bold" fill="#828282" textLength="12.0" lengthAdjust="spacingAndGlyphs">PSMA2</text>
<text transform="translate(120.26,191.1) rotate(90)" font-size="3.5" font-weight="bold" fill="#828282" textLength="12.1" lengthAdjust="spacingAndGlyphs">PSMD4</text>
<text transform="translate(124.82,191.1) rotate(90)" font-size="3.5" font-weight="bold" fill="#828282" textLength="11.1" lengthAdjust="spacingAndGlyphs">PSMC6</text>
<text transform="translate(129.37,191.1) rotate(90)" font-size="3.5" font-weight="bold" fill="#828282" textLength="14.8" lengthAdjust="spacingAndGlyphs">PSMB4</text>
<text transform="translate(133.93,191.1) rotate(90)" font-size="3.5" font-weight="bold" fill="#828282" textLength="11.5" lengthAdjust="spacingAndGlyphs">PSMD12</text>
<text transform="translate(138.48,191.1) rotate(90)" font-size="3.5" font-weight="bold" fill="#828282" textLength="11.4" lengthAdjust="spacingAndGlyphs">PSMA6</text>
<rect x="209.20" y="159.80" width="4.58" height="4.49" fill="#1a0fc4"/>
<rect x="213.73" y="159.80" width="4.58" height="4.49" fill="#1a0fc4"/>
<rect x="218.26" y="159.80" width="4.58" height="4.49" fill="#1a0fc4"/>
<rect x="222.79" y="159.80" width="4.58" height="4.49" fill="#1a0fc4"/>
<rect x="227.32" y="159.80" width="4.58" height="4.49" fill="#1a0fc4"/>
<rect x="231.85" y="159.80" width="4.58" height="4.49" fill="#7b7df0"/>
<rect x="236.38" y="159.80" width="4.58" height="4.49" fill="#1a0fc4"/>
<rect x="240.91" y="159.80" width="4.58" height="4.49" fill="#1a0fc4"/>
<rect x="245.44" y="159.80" width="4.58" height="4.49" fill="#1a0fc4"/>
<rect x="249.97" y="159.80" width="4.58" height="4.49" fill="#1a0fc4"/>
<rect x="254.50" y="159.80" width="4.58" height="4.49" fill="#1a0fc4"/>
<rect x="259.03" y="159.80" width="4.58" height="4.49" fill="#1a0fc4"/>
<rect x="263.56" y="159.80" width="4.58" height="4.49" fill="#a9b0fa"/>
<rect x="268.09" y="159.80" width="4.58" height="4.49" fill="#1a0fc4"/>
<rect x="272.62" y="159.80" width="4.58" height="4.49" fill="#1a0fc4"/>
<rect x="277.15" y="159.80" width="4.58" height="4.49" fill="#1a0fc4"/>
<rect x="281.68" y="159.80" width="4.58" height="4.49" fill="#1a0fc4"/>
<rect x="286.21" y="159.80" width="4.58" height="4.49" fill="#d4cdf8"/>
<rect x="290.74" y="159.80" width="4.58" height="4.49" fill="#f4ecf8"/>
<rect x="295.27" y="159.80" width="4.58" height="4.49" fill="#1a0fc4"/>
<rect x="299.80" y="159.80" width="4.58" height="4.49" fill="#1a0fc4"/>
<rect x="304.33" y="159.80" width="4.58" height="4.49" fill="#1a0fc4"/>
<rect x="209.20" y="164.24" width="4.58" height="4.49" fill="#1a0fc4"/>
<rect x="213.73" y="164.24" width="4.58" height="4.49" fill="#1a0fc4"/>
<rect x="218.26" y="164.24" width="4.58" height="4.49" fill="#1a0fc4"/>
<rect x="222.79" y="164.24" width="4.58" height="4.49" fill="#1a0fc4"/>
<rect x="227.32" y="164.24" width="4.58" height="4.49" fill="#1a0fc4"/>
<rect x="231.85" y="164.24" width="4.58" height="4.49" fill="#1a0fc4"/>
<rect x="236.38" y="164.24" width="4.58" height="4.49" fill="#7b7df0"/>
<rect x="240.91" y="164.24" width="4.58" height="4.49" fill="#1a0fc4"/>
<rect x="245.44" y="164.24" width="4.58" height="4.49" fill="#1a0fc4"/>
<rect x="249.97" y="164.24" width="4.58" height="4.49" fill="#1a0fc4"/>
<rect x="254.50" y="164.24" width="4.58" height="4.49" fill="#1a0fc4"/>
<rect x="259.03" y="164.24" width="4.58" height="4.49" fill="#1a0fc4"/>
<rect x="263.56" y="164.24" width="4.58" height="4.49" fill="#1a0fc4"/>
<rect x="268.09" y="164.24" width="4.58" height="4.49" fill="#7b7df0"/>
<rect x="272.62" y="164.24" width="4.58" height="4.49" fill="#1a0fc4"/>
<rect x="277.15" y="164.24" width="4.58" height="4.49" fill="#1a0fc4"/>
<rect x="281.68" y="164.24" width="4.58" height="4.49" fill="#1a0fc4"/>
<rect x="286.21" y="164.24" width="4.58" height="4.49" fill="#1a0fc4"/>
<rect x="290.74" y="164.24" width="4.58" height="4.49" fill="#1a0fc4"/>
<rect x="295.27" y="164.24" width="4.58" height="4.49" fill="#1a0fc4"/>
<rect x="299.80" y="164.24" width="4.58" height="4.49" fill="#f4ecf8"/>
<rect x="304.33" y="164.24" width="4.58" height="4.49" fill="#1a0fc4"/>
<rect x="209.20" y="168.68" width="4.58" height="4.49" fill="#1a0fc4"/>
<rect x="213.73" y="168.68" width="4.58" height="4.49" fill="#4a49e0"/>
<rect x="218.26" y="168.68" width="4.58" height="4.49" fill="#d4cdf8"/>
<rect x="222.79" y="168.68" width="4.58" height="4.49" fill="#4a49e0"/>
<rect x="227.32" y="168.68" width="4.58" height="4.49" fill="#d4cdf8"/>
<rect x="231.85" y="168.68" width="4.58" height="4.49" fill="#7b7df0"/>
<rect x="236.38" y="168.68" width="4.58" height="4.49" fill="#a9b0fa"/>
<rect x="240.91" y="168.68" width="4.58" height="4.49" fill="#d4cdf8"/>
<rect x="245.44" y="168.68" width="4.58" height="4.49" fill="#7b7df0"/>
<rect x="249.97" y="168.68" width="4.58" height="4.49" fill="#4a49e0"/>
<rect x="254.50" y="168.68" width="4.58" height="4.49" fill="#d4cdf8"/>
<rect x="259.03" y="168.68" width="4.58" height="4.49" fill="#f4ecf8"/>
<rect x="263.56" y="168.68" width="4.58" height="4.49" fill="#f6c6cc"/>
<rect x="268.09" y="168.68" width="4.58" height="4.49" fill="#f4ecf8"/>
<rect x="272.62" y="168.68" width="4.58" height="4.49" fill="#d4cdf8"/>
<rect x="277.15" y="168.68" width="4.58" height="4.49" fill="#4a49e0"/>
<rect x="281.68" y="168.68" width="4.58" height="4.49" fill="#f4ecf8"/>
<rect x="286.21" y="168.68" width="4.58" height="4.49" fill="#7b7df0"/>
<rect x="290.74" y="168.68" width="4.58" height="4.49" fill="#1a0fc4"/>
<rect x="295.27" y="168.68" width="4.58" height="4.49" fill="#d4cdf8"/>
<rect x="299.80" y="168.68" width="4.58" height="4.49" fill="#d4cdf8"/>
<rect x="304.33" y="168.68" width="4.58" height="4.49" fill="#f6c6cc"/>
<rect x="209.20" y="173.12" width="4.58" height="4.49" fill="#dc2a22"/>
<rect x="213.73" y="173.12" width="4.58" height="4.49" fill="#f6c6cc"/>
<rect x="218.26" y="173.12" width="4.58" height="4.49" fill="#dc2a22"/>
<rect x="222.79" y="173.12" width="4.58" height="4.49" fill="#dc2a22"/>
<rect x="227.32" y="173.12" width="4.58" height="4.49" fill="#dc2a22"/>
<rect x="231.85" y="173.12" width="4.58" height="4.49" fill="#dc2a22"/>
<rect x="236.38" y="173.12" width="4.58" height="4.49" fill="#f09a9a"/>
<rect x="240.91" y="173.12" width="4.58" height="4.49" fill="#dc2a22"/>
<rect x="245.44" y="173.12" width="4.58" height="4.49" fill="#dc2a22"/>
<rect x="249.97" y="173.12" width="4.58" height="4.49" fill="#dc2a22"/>
<rect x="254.50" y="173.12" width="4.58" height="4.49" fill="#ec6a66"/>
<rect x="259.03" y="173.12" width="4.58" height="4.49" fill="#dc2a22"/>
<rect x="263.56" y="173.12" width="4.58" height="4.49" fill="#ec6a66"/>
<rect x="268.09" y="173.12" width="4.58" height="4.49" fill="#dc2a22"/>
<rect x="272.62" y="173.12" width="4.58" height="4.49" fill="#f4ecf8"/>
<rect x="277.15" y="173.12" width="4.58" height="4.49" fill="#dc2a22"/>
<rect x="281.68" y="173.12" width="4.58" height="4.49" fill="#dc2a22"/>
<rect x="286.21" y="173.12" width="4.58" height="4.49" fill="#ec6a66"/>
<rect x="290.74" y="173.12" width="4.58" height="4.49" fill="#ec6a66"/>
<rect x="295.27" y="173.12" width="4.58" height="4.49" fill="#f4ecf8"/>
<rect x="299.80" y="173.12" width="4.58" height="4.49" fill="#dc2a22"/>
<rect x="304.33" y="173.12" width="4.58" height="4.49" fill="#f4ecf8"/>
<rect x="209.20" y="177.56" width="4.58" height="4.49" fill="#dc2a22"/>
<rect x="213.73" y="177.56" width="4.58" height="4.49" fill="#dc2a22"/>
<rect x="218.26" y="177.56" width="4.58" height="4.49" fill="#ec6a66"/>
<rect x="222.79" y="177.56" width="4.58" height="4.49" fill="#ec6a66"/>
<rect x="227.32" y="177.56" width="4.58" height="4.49" fill="#dc2a22"/>
<rect x="231.85" y="177.56" width="4.58" height="4.49" fill="#f09a9a"/>
<rect x="236.38" y="177.56" width="4.58" height="4.49" fill="#ec6a66"/>
<rect x="240.91" y="177.56" width="4.58" height="4.49" fill="#f09a9a"/>
<rect x="245.44" y="177.56" width="4.58" height="4.49" fill="#dc2a22"/>
<rect x="249.97" y="177.56" width="4.58" height="4.49" fill="#ec6a66"/>
<rect x="254.50" y="177.56" width="4.58" height="4.49" fill="#dc2a22"/>
<rect x="259.03" y="177.56" width="4.58" height="4.49" fill="#dc2a22"/>
<rect x="263.56" y="177.56" width="4.58" height="4.49" fill="#dc2a22"/>
<rect x="268.09" y="177.56" width="4.58" height="4.49" fill="#ec6a66"/>
<rect x="272.62" y="177.56" width="4.58" height="4.49" fill="#dc2a22"/>
<rect x="277.15" y="177.56" width="4.58" height="4.49" fill="#ec6a66"/>
<rect x="281.68" y="177.56" width="4.58" height="4.49" fill="#ec6a66"/>
<rect x="286.21" y="177.56" width="4.58" height="4.49" fill="#dc2a22"/>
<rect x="290.74" y="177.56" width="4.58" height="4.49" fill="#dc2a22"/>
<rect x="295.27" y="177.56" width="4.58" height="4.49" fill="#ec6a66"/>
<rect x="299.80" y="177.56" width="4.58" height="4.49" fill="#ec6a66"/>
<rect x="304.33" y="177.56" width="4.58" height="4.49" fill="#ec6a66"/>
<rect x="209.20" y="182.00" width="4.58" height="4.49" fill="#ec6a66"/>
<rect x="213.73" y="182.00" width="4.58" height="4.49" fill="#dc2a22"/>
<rect x="218.26" y="182.00" width="4.58" height="4.49" fill="#dc2a22"/>
<rect x="222.79" y="182.00" width="4.58" height="4.49" fill="#ec6a66"/>
<rect x="227.32" y="182.00" width="4.58" height="4.49" fill="#dc2a22"/>
<rect x="231.85" y="182.00" width="4.58" height="4.49" fill="#ec6a66"/>
<rect x="236.38" y="182.00" width="4.58" height="4.49" fill="#dc2a22"/>
<rect x="240.91" y="182.00" width="4.58" height="4.49" fill="#dc2a22"/>
<rect x="245.44" y="182.00" width="4.58" height="4.49" fill="#f09a9a"/>
<rect x="249.97" y="182.00" width="4.58" height="4.49" fill="#ec6a66"/>
<rect x="254.50" y="182.00" width="4.58" height="4.49" fill="#dc2a22"/>
<rect x="259.03" y="182.00" width="4.58" height="4.49" fill="#dc2a22"/>
<rect x="263.56" y="182.00" width="4.58" height="4.49" fill="#f09a9a"/>
<rect x="268.09" y="182.00" width="4.58" height="4.49" fill="#dc2a22"/>
<rect x="272.62" y="182.00" width="4.58" height="4.49" fill="#dc2a22"/>
<rect x="277.15" y="182.00" width="4.58" height="4.49" fill="#ec6a66"/>
<rect x="281.68" y="182.00" width="4.58" height="4.49" fill="#ec6a66"/>
<rect x="286.21" y="182.00" width="4.58" height="4.49" fill="#dc2a22"/>
<rect x="290.74" y="182.00" width="4.58" height="4.49" fill="#ec6a66"/>
<rect x="295.27" y="182.00" width="4.58" height="4.49" fill="#dc2a22"/>
<rect x="299.80" y="182.00" width="4.58" height="4.49" fill="#dc2a22"/>
<rect x="304.33" y="182.00" width="4.58" height="4.49" fill="#ec6a66"/>
<line x1="209.20" y1="159.8" x2="209.20" y2="186.44" stroke="#0c0020" stroke-opacity="0.55" stroke-width="0.55"/>
<line x1="213.73" y1="159.8" x2="213.73" y2="186.44" stroke="#0c0020" stroke-opacity="0.55" stroke-width="0.55"/>
<line x1="218.26" y1="159.8" x2="218.26" y2="186.44" stroke="#0c0020" stroke-opacity="0.55" stroke-width="0.55"/>
<line x1="222.79" y1="159.8" x2="222.79" y2="186.44" stroke="#0c0020" stroke-opacity="0.55" stroke-width="0.55"/>
<line x1="227.32" y1="159.8" x2="227.32" y2="186.44" stroke="#0c0020" stroke-opacity="0.55" stroke-width="0.55"/>
<line x1="231.85" y1="159.8" x2="231.85" y2="186.44" stroke="#0c0020" stroke-opacity="0.55" stroke-width="0.55"/>
<line x1="236.38" y1="159.8" x2="236.38" y2="186.44" stroke="#0c0020" stroke-opacity="0.55" stroke-width="0.55"/>
<line x1="240.91" y1="159.8" x2="240.91" y2="186.44" stroke="#0c0020" stroke-opacity="0.55" stroke-width="0.55"/>
<line x1="245.44" y1="159.8" x2="245.44" y2="186.44" stroke="#0c0020" stroke-opacity="0.55" stroke-width="0.55"/>
<line x1="249.97" y1="159.8" x2="249.97" y2="186.44" stroke="#0c0020" stroke-opacity="0.55" stroke-width="0.55"/>
<line x1="254.50" y1="159.8" x2="254.50" y2="186.44" stroke="#0c0020" stroke-opacity="0.55" stroke-width="0.55"/>
<line x1="259.03" y1="159.8" x2="259.03" y2="186.44" stroke="#0c0020" stroke-opacity="0.55" stroke-width="0.55"/>
<line x1="263.56" y1="159.8" x2="263.56" y2="186.44" stroke="#0c0020" stroke-opacity="0.55" stroke-width="0.55"/>
<line x1="268.09" y1="159.8" x2="268.09" y2="186.44" stroke="#0c0020" stroke-opacity="0.55" stroke-width="0.55"/>
<line x1="272.62" y1="159.8" x2="272.62" y2="186.44" stroke="#0c0020" stroke-opacity="0.55" stroke-width="0.55"/>
<line x1="277.15" y1="159.8" x2="277.15" y2="186.44" stroke="#0c0020" stroke-opacity="0.55" stroke-width="0.55"/>
<line x1="281.68" y1="159.8" x2="281.68" y2="186.44" stroke="#0c0020" stroke-opacity="0.55" stroke-width="0.55"/>
<line x1="286.21" y1="159.8" x2="286.21" y2="186.44" stroke="#0c0020" stroke-opacity="0.55" stroke-width="0.55"/>
<line x1="290.74" y1="159.8" x2="290.74" y2="186.44" stroke="#0c0020" stroke-opacity="0.55" stroke-width="0.55"/>
<line x1="295.27" y1="159.8" x2="295.27" y2="186.44" stroke="#0c0020" stroke-opacity="0.55" stroke-width="0.55"/>
<line x1="299.80" y1="159.8" x2="299.80" y2="186.44" stroke="#0c0020" stroke-opacity="0.55" stroke-width="0.55"/>
<line x1="304.33" y1="159.8" x2="304.33" y2="186.44" stroke="#0c0020" stroke-opacity="0.55" stroke-width="0.55"/>
<line x1="308.86" y1="159.8" x2="308.86" y2="186.44" stroke="#0c0020" stroke-opacity="0.55" stroke-width="0.55"/>
<line x1="209.2" y1="159.80" x2="308.86" y2="159.80" stroke="#0c0020" stroke-opacity="0.55" stroke-width="0.55"/>
<line x1="209.2" y1="164.24" x2="308.86" y2="164.24" stroke="#0c0020" stroke-opacity="0.55" stroke-width="0.55"/>
<line x1="209.2" y1="168.68" x2="308.86" y2="168.68" stroke="#0c0020" stroke-opacity="0.55" stroke-width="0.55"/>
<line x1="209.2" y1="173.12" x2="308.86" y2="173.12" stroke="#0c0020" stroke-opacity="0.55" stroke-width="0.55"/>
<line x1="209.2" y1="177.56" x2="308.86" y2="177.56" stroke="#0c0020" stroke-opacity="0.55" stroke-width="0.55"/>
<line x1="209.2" y1="182.00" x2="308.86" y2="182.00" stroke="#0c0020" stroke-opacity="0.55" stroke-width="0.55"/>
<line x1="209.2" y1="186.44" x2="308.86" y2="186.44" stroke="#0c0020" stroke-opacity="0.55" stroke-width="0.55"/>
<line x1="209.20" y1="186.4" x2="209.20" y2="209.4" stroke="#9c9c9c" stroke-width="0.6"/>
<line x1="213.73" y1="186.4" x2="213.73" y2="209.4" stroke="#9c9c9c" stroke-width="0.6"/>
<line x1="218.26" y1="186.4" x2="218.26" y2="209.4" stroke="#9c9c9c" stroke-width="0.6"/>
<line x1="222.79" y1="186.4" x2="222.79" y2="209.4" stroke="#9c9c9c" stroke-width="0.6"/>
<line x1="227.32" y1="186.4" x2="227.32" y2="209.4" stroke="#9c9c9c" stroke-width="0.6"/>
<line x1="231.85" y1="186.4" x2="231.85" y2="209.4" stroke="#9c9c9c" stroke-width="0.6"/>
<line x1="236.38" y1="186.4" x2="236.38" y2="209.4" stroke="#9c9c9c" stroke-width="0.6"/>
<line x1="240.91" y1="186.4" x2="240.91" y2="209.4" stroke="#9c9c9c" stroke-width="0.6"/>
<line x1="245.44" y1="186.4" x2="245.44" y2="209.4" stroke="#9c9c9c" stroke-width="0.6"/>
<line x1="249.97" y1="186.4" x2="249.97" y2="209.4" stroke="#9c9c9c" stroke-width="0.6"/>
<line x1="254.50" y1="186.4" x2="254.50" y2="209.4" stroke="#9c9c9c" stroke-width="0.6"/>
<line x1="259.03" y1="186.4" x2="259.03" y2="209.4" stroke="#9c9c9c" stroke-width="0.6"/>
<line x1="263.56" y1="186.4" x2="263.56" y2="209.4" stroke="#9c9c9c" stroke-width="0.6"/>
<line x1="268.09" y1="186.4" x2="268.09" y2="209.4" stroke="#9c9c9c" stroke-width="0.6"/>
<line x1="272.62" y1="186.4" x2="272.62" y2="209.4" stroke="#9c9c9c" stroke-width="0.6"/>
<line x1="277.15" y1="186.4" x2="277.15" y2="209.4" stroke="#9c9c9c" stroke-width="0.6"/>
<line x1="281.68" y1="186.4" x2="281.68" y2="209.4" stroke="#9c9c9c" stroke-width="0.6"/>
<line x1="286.21" y1="186.4" x2="286.21" y2="209.4" stroke="#9c9c9c" stroke-width="0.6"/>
<line x1="290.74" y1="186.4" x2="290.74" y2="209.4" stroke="#9c9c9c" stroke-width="0.6"/>
<line x1="295.27" y1="186.4" x2="295.27" y2="209.4" stroke="#9c9c9c" stroke-width="0.6"/>
<line x1="299.80" y1="186.4" x2="299.80" y2="209.4" stroke="#9c9c9c" stroke-width="0.6"/>
<line x1="304.33" y1="186.4" x2="304.33" y2="209.4" stroke="#9c9c9c" stroke-width="0.6"/>
<line x1="308.86" y1="186.4" x2="308.86" y2="209.4" stroke="#9c9c9c" stroke-width="0.6"/>
<text transform="translate(210.21,190.8) rotate(90)" font-size="3.5" font-weight="bold" fill="#828282" textLength="11.2" lengthAdjust="spacingAndGlyphs">PSMA1</text>
<text transform="translate(214.74,190.8) rotate(90)" font-size="3.5" font-weight="bold" fill="#828282" textLength="11.1" lengthAdjust="spacingAndGlyphs">PSMB3</text>
<text transform="translate(219.27,190.8) rotate(90)" font-size="3.5" font-weight="bold" fill="#828282" textLength="11.4" lengthAdjust="spacingAndGlyphs">PSMD2</text>
<text transform="translate(223.80,190.8) rotate(90)" font-size="3.5" font-weight="bold" fill="#828282" textLength="15.1" lengthAdjust="spacingAndGlyphs">PSMC4</text>
<text transform="translate(228.33,190.8) rotate(90)" font-size="3.5" font-weight="bold" fill="#828282" textLength="15.0" lengthAdjust="spacingAndGlyphs">PSMD11</text>
<text transform="translate(232.86,190.8) rotate(90)" font-size="3.5" font-weight="bold" fill="#828282" textLength="14.6" lengthAdjust="spacingAndGlyphs">PSMA7</text>
<text transform="translate(237.39,190.8) rotate(90)" font-size="3.5" font-weight="bold" fill="#828282" textLength="12.0" lengthAdjust="spacingAndGlyphs">PSMB5</text>
<text transform="translate(241.92,190.8) rotate(90)" font-size="3.5" font-weight="bold" fill="#828282" textLength="14.8" lengthAdjust="spacingAndGlyphs">PSMD14</text>
<text transform="translate(246.45,190.8) rotate(90)" font-size="3.5" font-weight="bold" fill="#828282" textLength="12.1" lengthAdjust="spacingAndGlyphs">PSMC1</text>
<text transform="translate(250.98,190.8) rotate(90)" font-size="3.5" font-weight="bold" fill="#828282" textLength="11.5" lengthAdjust="spacingAndGlyphs">PSMA4</text>
<text transform="translate(255.51,190.8) rotate(90)" font-size="3.5" font-weight="bold" fill="#828282" textLength="11.1" lengthAdjust="spacingAndGlyphs">PSMD3</text>
<text transform="translate(260.05,190.8) rotate(90)" font-size="3.5" font-weight="bold" fill="#828282" textLength="11.3" lengthAdjust="spacingAndGlyphs">PSMB1</text>
<text transform="translate(264.57,190.8) rotate(90)" font-size="3.5" font-weight="bold" fill="#828282" textLength="14.6" lengthAdjust="spacingAndGlyphs">PSMC2</text>
<text transform="translate(269.11,190.8) rotate(90)" font-size="3.5" font-weight="bold" fill="#828282" textLength="12.0" lengthAdjust="spacingAndGlyphs">PSMA5</text>
<text transform="translate(273.63,190.8) rotate(90)" font-size="3.5" font-weight="bold" fill="#828282" textLength="15.2" lengthAdjust="spacingAndGlyphs">PSMD7</text>
<text transform="translate(278.16,190.8) rotate(90)" font-size="3.5" font-weight="bold" fill="#828282" textLength="11.4" lengthAdjust="spacingAndGlyphs">PSMB6</text>
<text transform="translate(282.69,190.8) rotate(90)" font-size="3.5" font-weight="bold" fill="#828282" textLength="11.1" lengthAdjust="spacingAndGlyphs">PSMA2</text>
<text transform="translate(287.23,190.8) rotate(90)" font-size="3.5" font-weight="bold" fill="#828282" textLength="14.7" lengthAdjust="spacingAndGlyphs">PSMD4</text>
<text transform="translate(291.75,190.8) rotate(90)" font-size="3.5" font-weight="bold" fill="#828282" textLength="11.5" lengthAdjust="spacingAndGlyphs">PSMC6</text>
<text transform="translate(296.28,190.8) rotate(90)" font-size="3.5" font-weight="bold" fill="#828282" textLength="11.7" lengthAdjust="spacingAndGlyphs">PSMB4</text>
<text transform="translate(300.81,190.8) rotate(90)" font-size="3.5" font-weight="bold" fill="#828282" textLength="11.4" lengthAdjust="spacingAndGlyphs">PSMD12</text>
<text transform="translate(305.35,190.8) rotate(90)" font-size="3.5" font-weight="bold" fill="#828282" textLength="11.8" lengthAdjust="spacingAndGlyphs">PSMA6</text>
<text x="35.5" y="170.5" font-size="11.5" text-anchor="end" font-weight="normal" fill="#111" >+/+</text>
<text x="35.5" y="183.2" font-size="11.5" text-anchor="end" font-weight="normal" fill="#111" >TH3/+</text>
<text x="205.5" y="171.5" font-size="11.5" text-anchor="end" font-weight="normal" fill="#111" >+/+</text>
<text x="205.5" y="185.2" font-size="11.5" text-anchor="end" font-weight="normal" fill="#111" >TH3/TH3</text>
</g>
<g id="panelB">
<text x="3.6" y="240.0" font-size="12.6" text-anchor="start" font-weight="bold" fill="#000" >B</text>
<text x="81.9" y="251.9" font-size="11.8" text-anchor="middle" font-weight="normal" fill="#111" >20S Proteasome</text>
<text x="231.9" y="252.2" font-size="11.8" text-anchor="middle" font-weight="normal" fill="#111" >19S Proteasome</text>
<text x="81.5" y="435.3" font-size="11.9" text-anchor="middle" font-weight="normal" fill="#111" >Immunoproteasome</text>
<rect x="86.6" y="266.20" width="30.60" height="9.05" fill="rgb(253,244,244)"/>
<rect x="117.2" y="266.20" width="30.60" height="9.05" fill="rgb(250,225,225)"/>
<rect x="86.6" y="275.25" width="30.60" height="9.05" fill="rgb(252,238,238)"/>
<rect x="117.2" y="275.25" width="30.60" height="9.05" fill="rgb(249,217,217)"/>
<rect x="86.6" y="284.30" width="30.60" height="9.05" fill="rgb(252,239,239)"/>
<rect x="117.2" y="284.30" width="30.60" height="9.05" fill="rgb(249,214,214)"/>
<rect x="86.6" y="293.35" width="30.60" height="9.05" fill="rgb(252,236,236)"/>
<rect x="117.2" y="293.35" width="30.60" height="9.05" fill="rgb(235,119,119)"/>
<rect x="86.6" y="302.40" width="30.60" height="9.05" fill="rgb(251,231,231)"/>
<rect x="117.2" y="302.40" width="30.60" height="9.05" fill="rgb(242,167,167)"/>
<rect x="86.6" y="311.45" width="30.60" height="9.05" fill="rgb(252,238,238)"/>
<rect x="117.2" y="311.45" width="30.60" height="9.05" fill="rgb(248,212,212)"/>
<rect x="86.6" y="320.50" width="30.60" height="9.05" fill="rgb(252,236,236)"/>
<rect x="117.2" y="320.50" width="30.60" height="9.05" fill="rgb(247,202,202)"/>
<line x1="17.0" y1="256.90" x2="148.20000000000002" y2="256.90" stroke="#3a3a3a" stroke-width="1.0"/>
<line x1="17.0" y1="266.20" x2="148.20000000000002" y2="266.20" stroke="#3a3a3a" stroke-width="1.0"/>
<line x1="17.0" y1="275.25" x2="148.20000000000002" y2="275.25" stroke="#3a3a3a" stroke-width="0.8"/>
<line x1="17.0" y1="284.30" x2="148.20000000000002" y2="284.30" stroke="#3a3a3a" stroke-width="0.8"/>
<line x1="17.0" y1="293.35" x2="148.20000000000002" y2="293.35" stroke="#3a3a3a" stroke-width="0.8"/>
<line x1="17.0" y1="302.40" x2="148.20000000000002" y2="302.40" stroke="#3a3a3a" stroke-width="0.8"/>
<line x1="17.0" y1="311.45" x2="148.20000000000002" y2="311.45" stroke="#3a3a3a" stroke-width="0.8"/>
<line x1="17.0" y1="320.50" x2="148.20000000000002" y2="320.50" stroke="#3a3a3a" stroke-width="0.8"/>
<line x1="17.0" y1="329.55" x2="148.20000000000002" y2="329.55" stroke="#3a3a3a" stroke-width="1.0"/>
<line x1="17.4" y1="256.9" x2="17.4" y2="329.55" stroke="#3a3a3a" stroke-width="0.9"/>
<line x1="56.3" y1="256.9" x2="56.3" y2="329.55" stroke="#3a3a3a" stroke-width="0.9"/>
<line x1="86.6" y1="256.9" x2="86.6" y2="266.20" stroke="#3a3a3a" stroke-width="0.9"/>
<line x1="117.2" y1="256.9" x2="117.2" y2="266.20" stroke="#3a3a3a" stroke-width="0.9"/>
<line x1="147.8" y1="256.9" x2="147.8" y2="329.55" stroke="#3a3a3a" stroke-width="0.9"/>
<text x="36.85" y="264.20" font-size="7.1" font-weight="bold" text-anchor="middle" fill="#151515">Symbol</text>
<text x="71.45" y="264.20" font-size="7.1" font-weight="bold" text-anchor="middle" fill="#151515">+/+</text>
<text x="101.90" y="264.20" font-size="7.1" font-weight="bold" text-anchor="middle" fill="#151515">Th3/+</text>
<text x="132.50" y="264.20" font-size="7.1" font-weight="bold" text-anchor="middle" fill="#151515">Th3/Th3</text>
<text x="36.85" y="273.40" font-size="7.1" text-anchor="middle" fill="#262626" stroke="#262626" stroke-width="0.14">Psma1</text>
<text x="71.45" y="273.40" font-size="7.1" text-anchor="middle" fill="#262626" stroke="#262626" stroke-width="0.14">1</text>
<text x="101.90" y="273.40" font-size="7.1" text-anchor="middle" fill="#262626" stroke="#262626" stroke-width="0.14">1.15</text>
<text x="132.50" y="273.40" font-size="7.1" text-anchor="middle" fill="#262626" stroke="#262626" stroke-width="0.14">1.41</text>
<text x="36.85" y="282.45" font-size="7.1" text-anchor="middle" fill="#262626" stroke="#262626" stroke-width="0.14">Psma2</text>
<text x="71.45" y="282.45" font-size="7.1" text-anchor="middle" fill="#262626" stroke="#262626" stroke-width="0.14">1</text>
<text x="101.90" y="282.45" font-size="7.1" text-anchor="middle" fill="#262626" stroke="#262626" stroke-width="0.14">1.22</text>
<text x="132.50" y="282.45" font-size="7.1" text-anchor="middle" fill="#262626" stroke="#262626" stroke-width="0.14">1.54</text>
<text x="36.85" y="291.50" font-size="7.1" text-anchor="middle" fill="#262626" stroke="#262626" stroke-width="0.14">Psma3</text>
<text x="71.45" y="291.50" font-size="7.1" text-anchor="middle" fill="#262626" stroke="#262626" stroke-width="0.14">1</text>
<text x="101.90" y="291.50" font-size="7.1" text-anchor="middle" fill="#262626" stroke="#262626" stroke-width="0.14">1.21</text>
<text x="132.50" y="291.50" font-size="7.1" text-anchor="middle" fill="#262626" stroke="#262626" stroke-width="0.14">1.60</text>
<text x="36.85" y="300.55" font-size="7.1" text-anchor="middle" fill="#262626" stroke="#262626" stroke-width="0.14">Psma4</text>
<text x="71.45" y="300.55" font-size="7.1" text-anchor="middle" fill="#262626" stroke="#262626" stroke-width="0.14">1</text>
<text x="101.90" y="300.55" font-size="7.1" text-anchor="middle" fill="#262626" stroke="#262626" stroke-width="0.14">1.26</text>
<text x="132.50" y="300.55" font-size="7.1" text-anchor="middle" fill="#262626" stroke="#262626" stroke-width="0.14">2.48</text>
<text x="36.85" y="309.60" font-size="7.1" text-anchor="middle" fill="#262626" stroke="#262626" stroke-width="0.14">Psma5</text>
<text x="71.45" y="309.60" font-size="7.1" text-anchor="middle" fill="#262626" stroke="#262626" stroke-width="0.14">1</text>
<text x="101.90" y="309.60" font-size="7.1" text-anchor="middle" fill="#262626" stroke="#262626" stroke-width="0.14">1.33</text>
<text x="132.50" y="309.60" font-size="7.1" text-anchor="middle" fill="#262626" stroke="#262626" stroke-width="0.14">2.12</text>
<text x="36.85" y="318.65" font-size="7.1" text-anchor="middle" fill="#262626" stroke="#262626" stroke-width="0.14">Psma6</text>
<text x="71.45" y="318.65" font-size="7.1" text-anchor="middle" fill="#262626" stroke="#262626" stroke-width="0.14">1</text>
<text x="101.90" y="318.65" font-size="7.1" text-anchor="middle" fill="#262626" stroke="#262626" stroke-width="0.14">1.23</text>
<text x="132.50" y="318.65" font-size="7.1" text-anchor="middle" fill="#262626" stroke="#262626" stroke-width="0.14">1.63</text>
<text x="36.85" y="327.70" font-size="7.1" text-anchor="middle" fill="#262626" stroke="#262626" stroke-width="0.14">Psma7</text>
<text x="71.45" y="327.70" font-size="7.1" text-anchor="middle" fill="#262626" stroke="#262626" stroke-width="0.14">1</text>
<text x="101.90" y="327.70" font-size="7.1" text-anchor="middle" fill="#262626" stroke="#262626" stroke-width="0.14">1.26</text>
<text x="132.50" y="327.70" font-size="7.1" text-anchor="middle" fill="#262626" stroke="#262626" stroke-width="0.14">1.80</text>
<rect x="86.6" y="348.20" width="30.60" height="8.99" fill="rgb(253,244,244)"/>
<rect x="117.2" y="348.20" width="30.60" height="8.99" fill="rgb(247,201,201)"/>
<rect x="86.6" y="357.19" width="30.60" height="8.99" fill="rgb(252,236,236)"/>
<rect x="117.2" y="357.19" width="30.60" height="8.99" fill="rgb(246,194,194)"/>
<rect x="86.6" y="366.18" width="30.60" height="8.99" fill="rgb(252,239,239)"/>
<rect x="117.2" y="366.18" width="30.60" height="8.99" fill="rgb(224,42,42)"/>
<rect x="86.6" y="375.17" width="30.60" height="8.99" fill="rgb(252,236,236)"/>
<rect x="117.2" y="375.17" width="30.60" height="8.99" fill="rgb(247,205,205)"/>
<rect x="86.6" y="384.16" width="30.60" height="8.99" fill="rgb(252,238,238)"/>
<rect x="117.2" y="384.16" width="30.60" height="8.99" fill="rgb(248,210,210)"/>
<rect x="86.6" y="393.15" width="30.60" height="8.99" fill="rgb(252,236,236)"/>
<rect x="117.2" y="393.15" width="30.60" height="8.99" fill="rgb(245,187,187)"/>
<rect x="86.6" y="402.14" width="30.60" height="8.99" fill="rgb(252,236,236)"/>
<rect x="117.2" y="402.14" width="30.60" height="8.99" fill="rgb(249,215,215)"/>
<line x1="17.0" y1="338.90" x2="148.20000000000002" y2="338.90" stroke="#3a3a3a" stroke-width="1.0"/>
<line x1="17.0" y1="348.20" x2="148.20000000000002" y2="348.20" stroke="#3a3a3a" stroke-width="1.0"/>
<line x1="17.0" y1="357.19" x2="148.20000000000002" y2="357.19" stroke="#3a3a3a" stroke-width="0.8"/>
<line x1="17.0" y1="366.18" x2="148.20000000000002" y2="366.18" stroke="#3a3a3a" stroke-width="0.8"/>
<line x1="17.0" y1="375.17" x2="148.20000000000002" y2="375.17" stroke="#3a3a3a" stroke-width="0.8"/>
<line x1="17.0" y1="384.16" x2="148.20000000000002" y2="384.16" stroke="#3a3a3a" stroke-width="0.8"/>
<line x1="17.0" y1="393.15" x2="148.20000000000002" y2="393.15" stroke="#3a3a3a" stroke-width="0.8"/>
<line x1="17.0" y1="402.14" x2="148.20000000000002" y2="402.14" stroke="#3a3a3a" stroke-width="0.8"/>
<line x1="17.0" y1="411.13" x2="148.20000000000002" y2="411.13" stroke="#3a3a3a" stroke-width="1.0"/>
<line x1="17.4" y1="338.9" x2="17.4" y2="411.13" stroke="#3a3a3a" stroke-width="0.9"/>
<line x1="56.3" y1="338.9" x2="56.3" y2="411.13" stroke="#3a3a3a" stroke-width="0.9"/>
<line x1="86.6" y1="338.9" x2="86.6" y2="348.20" stroke="#3a3a3a" stroke-width="0.9"/>
<line x1="117.2" y1="338.9" x2="117.2" y2="348.20" stroke="#3a3a3a" stroke-width="0.9"/>
<line x1="147.8" y1="338.9" x2="147.8" y2="411.13" stroke="#3a3a3a" stroke-width="0.9"/>
<text x="36.85" y="346.20" font-size="7.1" font-weight="bold" text-anchor="middle" fill="#151515">Symbol</text>
<text x="71.45" y="346.20" font-size="7.1" font-weight="bold" text-anchor="middle" fill="#151515">+/+</text>
<text x="101.90" y="346.20" font-size="7.1" font-weight="bold" text-anchor="middle" fill="#151515">Th3/+</text>
<text x="132.50" y="346.20" font-size="7.1" font-weight="bold" text-anchor="middle" fill="#151515">Th3/Th3</text>
<text x="36.85" y="355.34" font-size="7.1" text-anchor="middle" fill="#262626" stroke="#262626" stroke-width="0.14">Psmb1</text>
<text x="71.45" y="355.34" font-size="7.1" text-anchor="middle" fill="#262626" stroke="#262626" stroke-width="0.14">1</text>
<text x="101.90" y="355.34" font-size="7.1" text-anchor="middle" fill="#262626" stroke="#262626" stroke-width="0.14">1.14</text>
<text x="132.50" y="355.34" font-size="7.1" text-anchor="middle" fill="#262626" stroke="#262626" stroke-width="0.14">1.81</text>
<text x="36.85" y="364.33" font-size="7.1" text-anchor="middle" fill="#262626" stroke="#262626" stroke-width="0.14">Psmb2</text>
<text x="71.45" y="364.33" font-size="7.1" text-anchor="middle" fill="#262626" stroke="#262626" stroke-width="0.14">1</text>
<text x="101.90" y="364.33" font-size="7.1" text-anchor="middle" fill="#262626" stroke="#262626" stroke-width="0.14">1.25</text>
<text x="132.50" y="364.33" font-size="7.1" text-anchor="middle" fill="#262626" stroke="#262626" stroke-width="0.14">1.86</text>
<text x="36.85" y="373.32" font-size="7.1" text-anchor="middle" fill="#262626" stroke="#262626" stroke-width="0.14">Psmb3</text>
<text x="71.45" y="373.32" font-size="7.1" text-anchor="middle" fill="#262626" stroke="#262626" stroke-width="0.14">1</text>
<text x="101.90" y="373.32" font-size="7.1" text-anchor="middle" fill="#262626" stroke="#262626" stroke-width="0.14">1.21</text>
<text x="132.50" y="373.32" font-size="7.1" text-anchor="middle" fill="#262626" stroke="#262626" stroke-width="0.14">3.39</text>
<text x="36.85" y="382.31" font-size="7.1" text-anchor="middle" fill="#262626" stroke="#262626" stroke-width="0.14">Psmb4</text>
<text x="71.45" y="382.31" font-size="7.1" text-anchor="middle" fill="#262626" stroke="#262626" stroke-width="0.14">1</text>
<text x="101.90" y="382.31" font-size="7.1" text-anchor="middle" fill="#262626" stroke="#262626" stroke-width="0.14">1.26</text>
<text x="132.50" y="382.31" font-size="7.1" text-anchor="middle" fill="#262626" stroke="#262626" stroke-width="0.14">1.75</text>
<text x="36.85" y="391.30" font-size="7.1" text-anchor="middle" fill="#262626" stroke="#262626" stroke-width="0.14">Psmb5</text>
<text x="71.45" y="391.30" font-size="7.1" text-anchor="middle" fill="#262626" stroke="#262626" stroke-width="0.14">1</text>
<text x="101.90" y="391.30" font-size="7.1" text-anchor="middle" fill="#262626" stroke="#262626" stroke-width="0.14">1.22</text>
<text x="132.50" y="391.30" font-size="7.1" text-anchor="middle" fill="#262626" stroke="#262626" stroke-width="0.14">1.66</text>
<text x="36.85" y="400.29" font-size="7.1" text-anchor="middle" fill="#262626" stroke="#262626" stroke-width="0.14">Psmb6</text>
<text x="71.45" y="400.29" font-size="7.1" text-anchor="middle" fill="#262626" stroke="#262626" stroke-width="0.14">1</text>
<text x="101.90" y="400.29" font-size="7.1" text-anchor="middle" fill="#262626" stroke="#262626" stroke-width="0.14">1.26</text>
<text x="132.50" y="400.29" font-size="7.1" text-anchor="middle" fill="#262626" stroke="#262626" stroke-width="0.14">1.92</text>
<text x="36.85" y="409.28" font-size="7.1" text-anchor="middle" fill="#262626" stroke="#262626" stroke-width="0.14">Psmb7</text>
<text x="71.45" y="409.28" font-size="7.1" text-anchor="middle" fill="#262626" stroke="#262626" stroke-width="0.14">1</text>
<text x="101.90" y="409.28" font-size="7.1" text-anchor="middle" fill="#262626" stroke="#262626" stroke-width="0.14">1.26</text>
<text x="132.50" y="409.28" font-size="7.1" text-anchor="middle" fill="#262626" stroke="#262626" stroke-width="0.14">1.57</text>
<rect x="86.5" y="450.30" width="30.90" height="9.3" fill="rgb(236,236,252)"/>
<rect x="117.4" y="450.30" width="31.10" height="9.3" fill="rgb(193,193,245)"/>
<rect x="86.5" y="459.60" width="30.90" height="9.3" fill="rgb(251,251,254)"/>
<rect x="117.4" y="459.60" width="31.10" height="9.3" fill="rgb(227,227,250)"/>
<rect x="86.5" y="468.90" width="30.90" height="9.3" fill="rgb(254,254,254)"/>
<rect x="117.4" y="468.90" width="31.10" height="9.3" fill="rgb(253,243,243)"/>
<line x1="16.1" y1="441.10" x2="148.9" y2="441.10" stroke="#3a3a3a" stroke-width="1.0"/>
<line x1="16.1" y1="450.30" x2="148.9" y2="450.30" stroke="#3a3a3a" stroke-width="1.0"/>
<line x1="16.1" y1="459.60" x2="148.9" y2="459.60" stroke="#3a3a3a" stroke-width="0.8"/>
<line x1="16.1" y1="468.90" x2="148.9" y2="468.90" stroke="#3a3a3a" stroke-width="0.8"/>
<line x1="16.1" y1="478.20" x2="148.9" y2="478.20" stroke="#3a3a3a" stroke-width="1.0"/>
<line x1="16.5" y1="441.1" x2="16.5" y2="478.20" stroke="#3a3a3a" stroke-width="0.9"/>
<line x1="55.7" y1="441.1" x2="55.7" y2="478.20" stroke="#3a3a3a" stroke-width="0.9"/>
<line x1="86.5" y1="441.1" x2="86.5" y2="450.30" stroke="#3a3a3a" stroke-width="0.9"/>
<line x1="117.4" y1="441.1" x2="117.4" y2="450.30" stroke="#3a3a3a" stroke-width="0.9"/>
<line x1="148.5" y1="441.1" x2="148.5" y2="478.20" stroke="#3a3a3a" stroke-width="0.9"/>
<text x="36.10" y="448.30" font-size="7.1" font-weight="bold" text-anchor="middle" fill="#151515">Symbol</text>
<text x="71.10" y="448.30" font-size="7.1" font-weight="bold" text-anchor="middle" fill="#151515">+/+</text>
<text x="101.95" y="448.30" font-size="7.1" font-weight="bold" text-anchor="middle" fill="#151515">Th3/+</text>
<text x="132.95" y="448.30" font-size="7.1" font-weight="bold" text-anchor="middle" fill="#151515">Th3/Th3</text>
<text x="36.10" y="457.75" font-size="7.1" text-anchor="middle" fill="#262626" stroke="#262626" stroke-width="0.14">Psmb8</text>
<text x="71.10" y="457.75" font-size="7.1" text-anchor="middle" fill="#262626" stroke="#262626" stroke-width="0.14">1.00</text>
<text x="101.95" y="457.75" font-size="7.1" text-anchor="middle" fill="#262626" stroke="#262626" stroke-width="0.14">0.93</text>
<text x="132.95" y="457.75" font-size="7.1" text-anchor="middle" fill="#262626" stroke="#262626" stroke-width="0.14">0.81</text>
<text x="36.10" y="467.05" font-size="7.1" text-anchor="middle" fill="#262626" stroke="#262626" stroke-width="0.14">Psmb9</text>
<text x="71.10" y="467.05" font-size="7.1" text-anchor="middle" fill="#262626" stroke="#262626" stroke-width="0.14">1.00</text>
<text x="101.95" y="467.05" font-size="7.1" text-anchor="middle" fill="#262626" stroke="#262626" stroke-width="0.14">0.98</text>
<text x="132.95" y="467.05" font-size="7.1" text-anchor="middle" fill="#262626" stroke="#262626" stroke-width="0.14">0.91</text>
<text x="36.10" y="476.35" font-size="7.1" text-anchor="middle" fill="#262626" stroke="#262626" stroke-width="0.14">Psmb10</text>
<text x="71.10" y="476.35" font-size="7.1" text-anchor="middle" fill="#262626" stroke="#262626" stroke-width="0.14">1.00</text>
<text x="101.95" y="476.35" font-size="7.1" text-anchor="middle" fill="#262626" stroke="#262626" stroke-width="0.14">1.01</text>
<text x="132.95" y="476.35" font-size="7.1" text-anchor="middle" fill="#262626" stroke="#262626" stroke-width="0.14">1.16</text>
<rect x="238.5" y="266.90" width="31.20" height="9.13" fill="rgb(253,243,243)"/>
<rect x="269.7" y="266.90" width="30.90" height="9.13" fill="rgb(247,204,204)"/>
<rect x="238.5" y="276.03" width="31.20" height="9.13" fill="rgb(251,233,233)"/>
<rect x="269.7" y="276.03" width="30.90" height="9.13" fill="rgb(245,189,189)"/>
<rect x="238.5" y="285.16" width="31.20" height="9.13" fill="rgb(253,242,242)"/>
<rect x="269.7" y="285.16" width="30.90" height="9.13" fill="rgb(249,219,219)"/>
<rect x="238.5" y="294.29" width="31.20" height="9.13" fill="rgb(253,247,247)"/>
<rect x="269.7" y="294.29" width="30.90" height="9.13" fill="rgb(250,226,226)"/>
<rect x="238.5" y="303.42" width="31.20" height="9.13" fill="rgb(253,244,244)"/>
<rect x="269.7" y="303.42" width="30.90" height="9.13" fill="rgb(251,231,231)"/>
<rect x="238.5" y="312.55" width="31.20" height="9.13" fill="rgb(252,238,238)"/>
<rect x="269.7" y="312.55" width="30.90" height="9.13" fill="rgb(248,211,211)"/>
<line x1="165.0" y1="258.00" x2="301.0" y2="258.00" stroke="#3a3a3a" stroke-width="1.0"/>
<line x1="165.0" y1="266.90" x2="301.0" y2="266.90" stroke="#3a3a3a" stroke-width="1.0"/>
<line x1="165.0" y1="276.03" x2="301.0" y2="276.03" stroke="#3a3a3a" stroke-width="0.8"/>
<line x1="165.0" y1="285.16" x2="301.0" y2="285.16" stroke="#3a3a3a" stroke-width="0.8"/>
<line x1="165.0" y1="294.29" x2="301.0" y2="294.29" stroke="#3a3a3a" stroke-width="0.8"/>
<line x1="165.0" y1="303.42" x2="301.0" y2="303.42" stroke="#3a3a3a" stroke-width="0.8"/>
<line x1="165.0" y1="312.55" x2="301.0" y2="312.55" stroke="#3a3a3a" stroke-width="0.8"/>
<line x1="165.0" y1="321.68" x2="301.0" y2="321.68" stroke="#3a3a3a" stroke-width="1.0"/>
<line x1="165.4" y1="258.0" x2="165.4" y2="321.68" stroke="#3a3a3a" stroke-width="0.9"/>
<line x1="208.2" y1="258.0" x2="208.2" y2="321.68" stroke="#3a3a3a" stroke-width="0.9"/>
<line x1="238.5" y1="258.0" x2="238.5" y2="266.90" stroke="#3a3a3a" stroke-width="0.9"/>
<line x1="269.7" y1="258.0" x2="269.7" y2="266.90" stroke="#3a3a3a" stroke-width="0.9"/>
<line x1="300.6" y1="258.0" x2="300.6" y2="321.68" stroke="#3a3a3a" stroke-width="0.9"/>
<text x="186.80" y="264.90" font-size="7.1" font-weight="bold" text-anchor="middle" fill="#151515">Symbol</text>
<text x="223.35" y="264.90" font-size="7.1" font-weight="bold" text-anchor="middle" fill="#151515">+/+</text>
<text x="254.10" y="264.90" font-size="7.1" font-weight="bold" text-anchor="middle" fill="#151515">Th3/+</text>
<text x="285.15" y="264.90" font-size="7.1" font-weight="bold" text-anchor="middle" fill="#151515">Th3/Th3</text>
<text x="186.80" y="274.18" font-size="7.1" text-anchor="middle" fill="#262626" stroke="#262626" stroke-width="0.14">Psmc1</text>
<text x="223.35" y="274.18" font-size="7.1" text-anchor="middle" fill="#262626" stroke="#262626" stroke-width="0.14">1</text>
<text x="254.10" y="274.18" font-size="7.1" text-anchor="middle" fill="#262626" stroke="#262626" stroke-width="0.14">1.16</text>
<text x="285.15" y="274.18" font-size="7.1" text-anchor="middle" fill="#262626" stroke="#262626" stroke-width="0.14">1.76</text>
<text x="186.80" y="283.31" font-size="7.1" text-anchor="middle" fill="#262626" stroke="#262626" stroke-width="0.14">Psmc2</text>
<text x="223.35" y="283.31" font-size="7.1" text-anchor="middle" fill="#262626" stroke="#262626" stroke-width="0.14">1</text>
<text x="254.10" y="283.31" font-size="7.1" text-anchor="middle" fill="#262626" stroke="#262626" stroke-width="0.14">1.30</text>
<text x="285.15" y="283.31" font-size="7.1" text-anchor="middle" fill="#262626" stroke="#262626" stroke-width="0.14">1.90</text>
<text x="186.80" y="292.44" font-size="7.1" text-anchor="middle" fill="#262626" stroke="#262626" stroke-width="0.14">Psmc3</text>
<text x="223.35" y="292.44" font-size="7.1" text-anchor="middle" fill="#262626" stroke="#262626" stroke-width="0.14">1</text>
<text x="254.10" y="292.44" font-size="7.1" text-anchor="middle" fill="#262626" stroke="#262626" stroke-width="0.14">1.17</text>
<text x="285.15" y="292.44" font-size="7.1" text-anchor="middle" fill="#262626" stroke="#262626" stroke-width="0.14">1.51</text>
<text x="186.80" y="301.57" font-size="7.1" text-anchor="middle" fill="#262626" stroke="#262626" stroke-width="0.14">Psmc4</text>
<text x="223.35" y="301.57" font-size="7.1" text-anchor="middle" fill="#262626" stroke="#262626" stroke-width="0.14">1</text>
<text x="254.10" y="301.57" font-size="7.1" text-anchor="middle" fill="#262626" stroke="#262626" stroke-width="0.14">1.10</text>
<text x="285.15" y="301.57" font-size="7.1" text-anchor="middle" fill="#262626" stroke="#262626" stroke-width="0.14">1.40</text>
<text x="186.80" y="310.70" font-size="7.1" text-anchor="middle" fill="#262626" stroke="#262626" stroke-width="0.14">Psmc5</text>
<text x="223.35" y="310.70" font-size="7.1" text-anchor="middle" fill="#262626" stroke="#262626" stroke-width="0.14">1</text>
<text x="254.10" y="310.70" font-size="7.1" text-anchor="middle" fill="#262626" stroke="#262626" stroke-width="0.14">1.14</text>
<text x="285.15" y="310.70" font-size="7.1" text-anchor="middle" fill="#262626" stroke="#262626" stroke-width="0.14">1.32</text>
<text x="186.80" y="319.83" font-size="7.1" text-anchor="middle" fill="#262626" stroke="#262626" stroke-width="0.14">Psmc6</text>
<text x="223.35" y="319.83" font-size="7.1" text-anchor="middle" fill="#262626" stroke="#262626" stroke-width="0.14">1</text>
<text x="254.10" y="319.83" font-size="7.1" text-anchor="middle" fill="#262626" stroke="#262626" stroke-width="0.14">1.22</text>
<text x="285.15" y="319.83" font-size="7.1" text-anchor="middle" fill="#262626" stroke="#262626" stroke-width="0.14">1.64</text>
<rect x="238.5" y="340.10" width="31.20" height="9.086" fill="rgb(251,233,233)"/>
<rect x="269.7" y="340.10" width="30.90" height="9.086" fill="rgb(250,223,223)"/>
<rect x="238.5" y="349.19" width="31.20" height="9.086" fill="rgb(251,229,229)"/>
<rect x="269.7" y="349.19" width="30.90" height="9.086" fill="rgb(247,199,199)"/>
<rect x="238.5" y="358.27" width="31.20" height="9.086" fill="rgb(253,241,241)"/>
<rect x="269.7" y="358.27" width="30.90" height="9.086" fill="rgb(240,154,154)"/>
<rect x="238.5" y="367.36" width="31.20" height="9.086" fill="rgb(252,236,236)"/>
<rect x="269.7" y="367.36" width="30.90" height="9.086" fill="rgb(248,210,210)"/>
<rect x="238.5" y="376.44" width="31.20" height="9.086" fill="rgb(254,254,254)"/>
<rect x="269.7" y="376.44" width="30.90" height="9.086" fill="rgb(254,248,248)"/>
<rect x="238.5" y="385.53" width="31.20" height="9.086" fill="rgb(254,249,249)"/>
<rect x="269.7" y="385.53" width="30.90" height="9.086" fill="rgb(252,233,233)"/>
<rect x="238.5" y="394.62" width="31.20" height="9.086" fill="rgb(253,246,246)"/>
<rect x="269.7" y="394.62" width="30.90" height="9.086" fill="rgb(249,218,218)"/>
<rect x="238.5" y="403.70" width="31.20" height="9.086" fill="rgb(251,233,233)"/>
<rect x="269.7" y="403.70" width="30.90" height="9.086" fill="rgb(248,209,209)"/>
<rect x="238.5" y="412.79" width="31.20" height="9.086" fill="rgb(231,231,251)"/>
<rect x="269.7" y="412.79" width="30.90" height="9.086" fill="rgb(254,253,253)"/>
<rect x="238.5" y="421.87" width="31.20" height="9.086" fill="rgb(252,237,237)"/>
<rect x="269.7" y="421.87" width="30.90" height="9.086" fill="rgb(250,225,225)"/>
<rect x="238.5" y="430.96" width="31.20" height="9.086" fill="rgb(254,253,253)"/>
<rect x="269.7" y="430.96" width="30.90" height="9.086" fill="rgb(250,221,221)"/>
<rect x="238.5" y="440.05" width="31.20" height="9.086" fill="rgb(251,230,230)"/>
<rect x="269.7" y="440.05" width="30.90" height="9.086" fill="rgb(247,198,198)"/>
<rect x="238.5" y="449.13" width="31.20" height="9.086" fill="rgb(253,245,245)"/>
<rect x="269.7" y="449.13" width="30.90" height="9.086" fill="rgb(247,201,201)"/>
<rect x="238.5" y="458.22" width="31.20" height="9.086" fill="rgb(253,246,246)"/>
<rect x="269.7" y="458.22" width="30.90" height="9.086" fill="rgb(252,239,239)"/>
<line x1="165.0" y1="331.20" x2="301.0" y2="331.20" stroke="#3a3a3a" stroke-width="1.0"/>
<line x1="165.0" y1="340.10" x2="301.0" y2="340.10" stroke="#3a3a3a" stroke-width="1.0"/>
<line x1="165.0" y1="349.19" x2="301.0" y2="349.19" stroke="#3a3a3a" stroke-width="0.8"/>
<line x1="165.0" y1="358.27" x2="301.0" y2="358.27" stroke="#3a3a3a" stroke-width="0.8"/>
<line x1="165.0" y1="367.36" x2="301.0" y2="367.36" stroke="#3a3a3a" stroke-width="0.8"/>
<line x1="165.0" y1="376.44" x2="301.0" y2="376.44" stroke="#3a3a3a" stroke-width="0.8"/>
<line x1="165.0" y1="385.53" x2="301.0" y2="385.53" stroke="#3a3a3a" stroke-width="0.8"/>
<line x1="165.0" y1="394.62" x2="301.0" y2="394.62" stroke="#3a3a3a" stroke-width="0.8"/>
<line x1="165.0" y1="403.70" x2="301.0" y2="403.70" stroke="#3a3a3a" stroke-width="0.8"/>
<line x1="165.0" y1="412.79" x2="301.0" y2="412.79" stroke="#3a3a3a" stroke-width="0.8"/>
<line x1="165.0" y1="421.87" x2="301.0" y2="421.87" stroke="#3a3a3a" stroke-width="0.8"/>
<line x1="165.0" y1="430.96" x2="301.0" y2="430.96" stroke="#3a3a3a" stroke-width="0.8"/>
<line x1="165.0" y1="440.05" x2="301.0" y2="440.05" stroke="#3a3a3a" stroke-width="0.8"/>
<line x1="165.0" y1="449.13" x2="301.0" y2="449.13" stroke="#3a3a3a" stroke-width="0.8"/>
<line x1="165.0" y1="458.22" x2="301.0" y2="458.22" stroke="#3a3a3a" stroke-width="0.8"/>
<line x1="165.0" y1="467.30" x2="301.0" y2="467.30" stroke="#3a3a3a" stroke-width="1.0"/>
<line x1="165.4" y1="331.2" x2="165.4" y2="467.30" stroke="#3a3a3a" stroke-width="0.9"/>
<line x1="208.2" y1="331.2" x2="208.2" y2="467.30" stroke="#3a3a3a" stroke-width="0.9"/>
<line x1="238.5" y1="331.2" x2="238.5" y2="340.10" stroke="#3a3a3a" stroke-width="0.9"/>
<line x1="269.7" y1="331.2" x2="269.7" y2="340.10" stroke="#3a3a3a" stroke-width="0.9"/>
<line x1="300.6" y1="331.2" x2="300.6" y2="467.30" stroke="#3a3a3a" stroke-width="0.9"/>
<text x="186.80" y="338.10" font-size="7.1" font-weight="bold" text-anchor="middle" fill="#151515">Symbol</text>
<text x="223.35" y="338.10" font-size="7.1" font-weight="bold" text-anchor="middle" fill="#151515">+/+</text>
<text x="254.10" y="338.10" font-size="7.1" font-weight="bold" text-anchor="middle" fill="#151515">Th3/+</text>
<text x="285.15" y="338.10" font-size="7.1" font-weight="bold" text-anchor="middle" fill="#151515">Th3/Th3</text>
<text x="186.80" y="347.34" font-size="7.1" text-anchor="middle" fill="#262626" stroke="#262626" stroke-width="0.14">Psmd1</text>
<text x="223.35" y="347.34" font-size="7.1" text-anchor="middle" fill="#262626" stroke="#262626" stroke-width="0.14">1</text>
<text x="254.10" y="347.34" font-size="7.1" text-anchor="middle" fill="#262626" stroke="#262626" stroke-width="0.14">1.30</text>
<text x="285.15" y="347.34" font-size="7.1" text-anchor="middle" fill="#262626" stroke="#262626" stroke-width="0.14">1.44</text>
<text x="186.80" y="356.42" font-size="7.1" text-anchor="middle" fill="#262626" stroke="#262626" stroke-width="0.14">Psmd2</text>
<text x="223.35" y="356.42" font-size="7.1" text-anchor="middle" fill="#262626" stroke="#262626" stroke-width="0.14">1</text>
<text x="254.10" y="356.42" font-size="7.1" text-anchor="middle" fill="#262626" stroke="#262626" stroke-width="0.14">1.36</text>
<text x="285.15" y="356.42" font-size="7.1" text-anchor="middle" fill="#262626" stroke="#262626" stroke-width="0.14">1.82</text>
<text x="186.80" y="365.51" font-size="7.1" text-anchor="middle" fill="#262626" stroke="#262626" stroke-width="0.14">Psmd3</text>
<text x="223.35" y="365.51" font-size="7.1" text-anchor="middle" fill="#262626" stroke="#262626" stroke-width="0.14">1</text>
<text x="254.10" y="365.51" font-size="7.1" text-anchor="middle" fill="#262626" stroke="#262626" stroke-width="0.14">1.19</text>
<text x="285.15" y="365.51" font-size="7.1" text-anchor="middle" fill="#262626" stroke="#262626" stroke-width="0.14">2.31</text>
<text x="186.80" y="374.59" font-size="7.1" text-anchor="middle" fill="#262626" stroke="#262626" stroke-width="0.14">Psmd4</text>
<text x="223.35" y="374.59" font-size="7.1" text-anchor="middle" fill="#262626" stroke="#262626" stroke-width="0.14">1</text>
<text x="254.10" y="374.59" font-size="7.1" text-anchor="middle" fill="#262626" stroke="#262626" stroke-width="0.14">1.26</text>
<text x="285.15" y="374.59" font-size="7.1" text-anchor="middle" fill="#262626" stroke="#262626" stroke-width="0.14">1.66</text>
<text x="186.80" y="383.68" font-size="7.1" text-anchor="middle" fill="#262626" stroke="#262626" stroke-width="0.14">Psmd5</text>
<text x="223.35" y="383.68" font-size="7.1" text-anchor="middle" fill="#262626" stroke="#262626" stroke-width="0.14">1</text>
<text x="254.10" y="383.68" font-size="7.1" text-anchor="middle" fill="#262626" stroke="#262626" stroke-width="0.14">1.01</text>
<text x="285.15" y="383.68" font-size="7.1" text-anchor="middle" fill="#262626" stroke="#262626" stroke-width="0.14">1.09</text>
<text x="186.80" y="392.77" font-size="7.1" text-anchor="middle" fill="#262626" stroke="#262626" stroke-width="0.14">Psmd6</text>
<text x="223.35" y="392.77" font-size="7.1" text-anchor="middle" fill="#262626" stroke="#262626" stroke-width="0.14">1</text>
<text x="254.10" y="392.77" font-size="7.1" text-anchor="middle" fill="#262626" stroke="#262626" stroke-width="0.14">1.08</text>
<text x="285.15" y="392.77" font-size="7.1" text-anchor="middle" fill="#262626" stroke="#262626" stroke-width="0.14">1.29</text>
<text x="186.80" y="401.85" font-size="7.1" text-anchor="middle" fill="#262626" stroke="#262626" stroke-width="0.14">Psmd7</text>
<text x="223.35" y="401.85" font-size="7.1" text-anchor="middle" fill="#262626" stroke="#262626" stroke-width="0.14">1</text>
<text x="254.10" y="401.85" font-size="7.1" text-anchor="middle" fill="#262626" stroke="#262626" stroke-width="0.14">1.12</text>
<text x="285.15" y="401.85" font-size="7.1" text-anchor="middle" fill="#262626" stroke="#262626" stroke-width="0.14">1.53</text>
<text x="186.80" y="410.94" font-size="7.1" text-anchor="middle" fill="#262626" stroke="#262626" stroke-width="0.14">Psmd8</text>
<text x="223.35" y="410.94" font-size="7.1" text-anchor="middle" fill="#262626" stroke="#262626" stroke-width="0.14">1</text>
<text x="254.10" y="410.94" font-size="7.1" text-anchor="middle" fill="#262626" stroke="#262626" stroke-width="0.14">1.30</text>
<text x="285.15" y="410.94" font-size="7.1" text-anchor="middle" fill="#262626" stroke="#262626" stroke-width="0.14">1.68</text>
<text x="186.80" y="420.02" font-size="7.1" text-anchor="middle" fill="#262626" stroke="#262626" stroke-width="0.14">Psmd9</text>
<text x="223.35" y="420.02" font-size="7.1" text-anchor="middle" fill="#262626" stroke="#262626" stroke-width="0.14">1</text>
<text x="254.10" y="420.02" font-size="7.1" text-anchor="middle" fill="#262626" stroke="#262626" stroke-width="0.14">0.92</text>
<text x="285.15" y="420.02" font-size="7.1" text-anchor="middle" fill="#262626" stroke="#262626" stroke-width="0.14">1.02</text>
<text x="186.80" y="429.11" font-size="7.1" text-anchor="middle" fill="#262626" stroke="#262626" stroke-width="0.14">Psmd10</text>
<text x="223.35" y="429.11" font-size="7.1" text-anchor="middle" fill="#262626" stroke="#262626" stroke-width="0.14">1</text>
<text x="254.10" y="429.11" font-size="7.1" text-anchor="middle" fill="#262626" stroke="#262626" stroke-width="0.14">1.24</text>
<text x="285.15" y="429.11" font-size="7.1" text-anchor="middle" fill="#262626" stroke="#262626" stroke-width="0.14">1.42</text>
<text x="186.80" y="438.20" font-size="7.1" text-anchor="middle" fill="#262626" stroke="#262626" stroke-width="0.14">Psmd11</text>
<text x="223.35" y="438.20" font-size="7.1" text-anchor="middle" fill="#262626" stroke="#262626" stroke-width="0.14">1</text>
<text x="254.10" y="438.20" font-size="7.1" text-anchor="middle" fill="#262626" stroke="#262626" stroke-width="0.14">1.02</text>
<text x="285.15" y="438.20" font-size="7.1" text-anchor="middle" fill="#262626" stroke="#262626" stroke-width="0.14">1.48</text>
<text x="186.80" y="447.28" font-size="7.1" text-anchor="middle" fill="#262626" stroke="#262626" stroke-width="0.14">Psmd12</text>
<text x="223.35" y="447.28" font-size="7.1" text-anchor="middle" fill="#262626" stroke="#262626" stroke-width="0.14">1</text>
<text x="254.10" y="447.28" font-size="7.1" text-anchor="middle" fill="#262626" stroke="#262626" stroke-width="0.14">1.34</text>
<text x="285.15" y="447.28" font-size="7.1" text-anchor="middle" fill="#262626" stroke="#262626" stroke-width="0.14">1.83</text>
<text x="186.80" y="456.37" font-size="7.1" text-anchor="middle" fill="#262626" stroke="#262626" stroke-width="0.14">Psmd13</text>
<text x="223.35" y="456.37" font-size="7.1" text-anchor="middle" fill="#262626" stroke="#262626" stroke-width="0.14">1</text>
<text x="254.10" y="456.37" font-size="7.1" text-anchor="middle" fill="#262626" stroke="#262626" stroke-width="0.14">1.13</text>
<text x="285.15" y="456.37" font-size="7.1" text-anchor="middle" fill="#262626" stroke="#262626" stroke-width="0.14">1.81</text>
<text x="186.80" y="465.45" font-size="7.1" text-anchor="middle" fill="#262626" stroke="#262626" stroke-width="0.14">Psmd14</text>
<text x="223.35" y="465.45" font-size="7.1" text-anchor="middle" fill="#262626" stroke="#262626" stroke-width="0.14">1</text>
<text x="254.10" y="465.45" font-size="7.1" text-anchor="middle" fill="#262626" stroke="#262626" stroke-width="0.14">1.12</text>
<text x="285.15" y="465.45" font-size="7.1" text-anchor="middle" fill="#262626" stroke="#262626" stroke-width="0.14">1.21</text>
<rect x="209.1" y="476.9" width="30.5" height="8.9" fill="#0c0ce2"/>
<rect x="239.6" y="476.9" width="30.2" height="8.9" fill="#ffffff"/>
<rect x="269.8" y="476.9" width="31.1" height="8.9" fill="#e00a0a"/>
<line x1="239.6" y1="476.9" x2="269.8" y2="476.9" stroke="#bbb" stroke-width="0.5"/>
<line x1="239.6" y1="485.8" x2="269.8" y2="485.8" stroke="#999" stroke-width="0.6"/>
<text x="224.4" y="484.0" font-size="7.0" text-anchor="middle" font-weight="normal" fill="#fff" >0.25</text>
<text x="254.8" y="484.0" font-size="7.0" text-anchor="middle" font-weight="normal" fill="#222" >1</text>
<text x="285.4" y="484.0" font-size="7.0" text-anchor="middle" font-weight="normal" fill="#9a0808" >4</text>
</g>
<g id="panelC">
<text x="3.3" y="518.0" font-size="12.6" text-anchor="start" font-weight="bold" fill="#000" >C</text>
<defs>
<radialGradient id="blob1" cx="0.5" cy="0.47" r="0.5">
<stop offset="0" stop-color="#e8ec3c"/><stop offset="0.26" stop-color="#b8ec48"/><stop offset="0.48" stop-color="#5ce888"/><stop offset="0.62" stop-color="#34d4d8"/><stop offset="0.74" stop-color="#30a0f4"/><stop offset="0.84" stop-color="#3060f0"/><stop offset="0.94" stop-color="#3440e0" stop-opacity="0.9"/><stop offset="1" stop-color="#4a50e0" stop-opacity="0"/>
</radialGradient>
<radialGradient id="blob2" cx="0.55" cy="0.53" r="0.5">
<stop offset="0" stop-color="#d02008"/><stop offset="0.13" stop-color="#e44810"/><stop offset="0.24" stop-color="#f0b820"/><stop offset="0.36" stop-color="#d0ee40"/><stop offset="0.48" stop-color="#60e888"/><stop offset="0.6" stop-color="#30c8ec"/><stop offset="0.74" stop-color="#3078f4"/><stop offset="0.9" stop-color="#3444e0" stop-opacity="0.9"/><stop offset="1" stop-color="#4a50e0" stop-opacity="0"/>
</radialGradient>
<radialGradient id="plume" cx="0.5" cy="0.6" r="0.5">
<stop offset="0" stop-color="#3468f0" stop-opacity="0.95"/><stop offset="0.6" stop-color="#3a50e4" stop-opacity="0.8"/><stop offset="1" stop-color="#4a58e4" stop-opacity="0"/>
</radialGradient>
<filter id="rough" x="-30%" y="-30%" width="160%" height="160%">
<feTurbulence type="fractalNoise" baseFrequency="1.1" numOctaves="2" seed="4" result="n"/>
<feDisplacementMap in="SourceGraphic" in2="n" scale="3.2" xChannelSelector="R" yChannelSelector="G" result="d"/>
<feGaussianBlur in="d" stdDeviation="0.3"/>
</filter>
<clipPath id="g1"><rect x="79.6" y="550" width="27.3" height="27.2"/></clipPath>
<clipPath id="g2"><rect x="80" y="597.6" width="27.4" height="28.8"/></clipPath>
</defs>
<rect x="39.7" y="545.6" width="84.5" height="83.9" fill="#fff" stroke="#1a1a1a" stroke-width="1.3"/>
<rect x="66.5" y="543.5" width="50.5" height="3.6" fill="#fff"/>
<line x1="37.6" y1="555.8" x2="39.6" y2="555.8" stroke="#222" stroke-width="0.6"/>
<line x1="37.6" y1="574.5" x2="39.6" y2="574.5" stroke="#222" stroke-width="0.6"/>
<line x1="37.6" y1="593.7" x2="39.6" y2="593.7" stroke="#222" stroke-width="0.6"/>
<line x1="37.6" y1="613.7" x2="39.6" y2="613.7" stroke="#222" stroke-width="0.6"/>
<line x1="37.6" y1="621.9" x2="39.6" y2="621.9" stroke="#222" stroke-width="0.6"/>
<g filter="url(#rough)">
<g clip-path="url(#g1)">
<rect x="82.5" y="551" width="23.5" height="22" rx="6" fill="#3c50e2" opacity="0.55"/>
<ellipse cx="94.6" cy="561.6" rx="12.4" ry="12.2" fill="url(#blob1)"/>
<ellipse cx="93.5" cy="572.5" rx="7" ry="4.5" fill="#4a5ae4" opacity="0.35"/>
</g>
<ellipse cx="92.8" cy="581.3" rx="5.2" ry="1.6" fill="#8ea4f2" opacity="0.7"/>
<g clip-path="url(#g2)">
<ellipse cx="94.2" cy="604.5" rx="6.2" ry="8.5" fill="url(#plume)"/>
<ellipse cx="94.2" cy="614.2" rx="12.6" ry="11.6" fill="url(#blob2)"/>
</g>
</g>
<rect x="79.3" y="549.4" width="28.0" height="28.0" fill="none" stroke="#2c2c8a" stroke-width="1"/>
<rect x="79.7" y="598.2" width="28.0" height="28.4" fill="none" stroke="#2c2c8a" stroke-width="1"/>
<text x="92.0" y="544.6" font-size="10.5" text-anchor="middle" font-weight="normal" fill="#111" >Nucleated</text>
<text x="94.5" y="593.8" font-size="10.5" text-anchor="middle" font-weight="normal" fill="#111" >Enucleated</text>
<line x1="107.6" y1="560.5" x2="133" y2="560.5" stroke="#28288a" stroke-width="1.3"/>
<path d="M131.6,557.2 L139.2,560.5 L131.6,563.8 Z" fill="#28288a"/>
<line x1="107.6" y1="612.9" x2="133" y2="612.9" stroke="#28288a" stroke-width="1.3"/>
<path d="M131.6,609.6 L139.2,612.9 L131.6,616.1999999999999 Z" fill="#28288a"/>
<text transform="translate(23.2,582) rotate(-90)" font-size="10.4" text-anchor="middle" fill="#111">H33342</text>
<text x="79.8" y="653.0" font-size="10.7" text-anchor="middle" font-weight="normal" fill="#111" >Ter119</text>
<text x="31.0" y="557.4" font-size="4.7" text-anchor="middle" fill="#111" stroke="#111" stroke-width="0.12">10<tspan dy="-1.88" font-size="3.29">5</tspan></text>
<text x="31.0" y="576.1" font-size="4.7" text-anchor="middle" fill="#111" stroke="#111" stroke-width="0.12">10<tspan dy="-1.88" font-size="3.29">4</tspan></text>
<text x="31.0" y="595.3" font-size="4.7" text-anchor="middle" fill="#111" stroke="#111" stroke-width="0.12">10<tspan dy="-1.88" font-size="3.29">3</tspan></text>
<text x="31.0" y="615.3" font-size="4.7" text-anchor="middle" fill="#111" stroke="#111" stroke-width="0.12">10<tspan dy="-1.88" font-size="3.29">2</tspan></text>
<text x="34.3" y="623.5" font-size="4.6" text-anchor="middle" font-weight="normal" fill="#111" stroke="#111" stroke-width="0.12">0</text>
<text x="68.2" y="639.8" font-size="4.7" text-anchor="middle" fill="#111" stroke="#111" stroke-width="0.12">10<tspan dy="-1.88" font-size="3.29">2</tspan></text>
<text x="85.0" y="639.8" font-size="4.7" text-anchor="middle" fill="#111" stroke="#111" stroke-width="0.12">10<tspan dy="-1.88" font-size="3.29">3</tspan></text>
<text x="100.6" y="639.8" font-size="4.7" text-anchor="middle" fill="#111" stroke="#111" stroke-width="0.12">10<tspan dy="-1.88" font-size="3.29">4</tspan></text>
<text x="115.8" y="639.8" font-size="4.7" text-anchor="middle" fill="#111" stroke="#111" stroke-width="0.12">10<tspan dy="-1.88" font-size="3.29">5</tspan></text>
<text x="61.5" y="639.8" font-size="4.6" text-anchor="middle" font-weight="normal" fill="#111" stroke="#111" stroke-width="0.12">0</text>
<rect x="151.6" y="506.3" width="75.80000000000001" height="75.69999999999999" fill="#fff" stroke="#909090" stroke-width="0.8"/>
<path d="M151.90,581.40 L152.30,581.40 L152.70,581.40 L153.10,581.40 L153.50,581.40 L153.90,581.40 L154.30,581.40 L154.70,581.40 L155.10,581.40 L155.50,581.40 L155.90,581.40 L156.30,581.40 L156.70,581.40 L157.10,581.40 L157.50,581.40 L157.90,581.40 L158.30,581.40 L158.70,581.40 L159.10,581.40 L159.50,581.40 L159.90,581.40 L160.30,581.40 L160.70,581.40 L161.10,581.40 L161.50,581.40 L161.90,581.40 L162.30,581.40 L162.70,581.40 L163.10,581.40 L163.50,581.40 L163.90,581.40 L164.30,581.40 L164.70,581.40 L165.10,581.40 L165.50,581.40 L165.90,581.40 L166.30,581.40 L166.70,581.40 L167.10,581.40 L167.50,581.39 L167.90,581.39 L168.30,581.39 L168.70,581.38 L169.10,581.37 L169.50,581.35 L169.90,581.34 L170.30,581.31 L170.70,581.28 L171.10,581.23 L171.50,581.17 L171.90,581.10 L172.30,581.01 L172.70,580.90 L173.10,580.76 L173.50,580.59 L173.90,580.40 L174.30,580.18 L174.70,579.92 L175.10,579.64 L175.50,579.32 L175.90,578.99 L176.30,578.63 L176.70,578.26 L177.10,577.89 L177.50,577.53 L177.90,577.18 L178.30,576.86 L178.70,576.57 L179.10,576.32 L179.50,576.12 L179.90,575.96 L180.30,575.84 L180.70,575.84 L181.10,576.02 L181.50,576.32 L181.90,576.62 L182.30,576.83 L182.70,576.82 L183.10,576.51 L183.50,575.81 L183.90,574.68 L184.30,573.05 L184.70,570.91 L185.10,568.23 L185.50,565.01 L185.90,561.24 L186.30,556.97 L186.70,552.24 L187.10,547.15 L187.50,541.80 L187.90,536.35 L188.30,530.97 L188.70,525.84 L189.10,521.18 L189.50,517.17 L189.90,513.98 L190.30,511.77 L190.70,510.64 L191.10,510.62 L191.50,511.60 L191.90,513.50 L192.30,516.26 L192.70,519.77 L193.10,523.89 L193.50,528.47 L193.90,533.36 L194.30,538.40 L194.70,543.43 L195.10,548.34 L195.50,553.01 L195.90,557.35 L196.30,561.31 L196.70,564.85 L197.10,567.95 L197.50,570.63 L197.90,572.88 L198.30,574.76 L198.70,576.30 L199.10,577.53 L199.50,578.51 L199.90,579.27 L200.30,579.85 L200.70,580.29 L201.10,580.61 L201.50,580.85 L201.90,581.02 L202.30,581.14 L202.70,581.23 L203.10,581.29 L203.50,581.33 L203.90,581.35 L204.30,581.37 L204.70,581.38 L205.10,581.39 L205.50,581.39 L205.90,581.40 L206.30,581.40 L206.70,581.40 L207.10,581.40 L207.50,581.40 L207.90,581.40 L208.30,581.40 L208.70,581.40 L209.10,581.40 L209.50,581.40 L209.90,581.40 L210.30,581.40 L210.70,581.40 L211.10,581.40 L211.50,581.40 L211.90,581.40 L212.30,581.40 L212.70,581.40 L213.10,581.40 L213.50,581.40 L213.90,581.40 L214.30,581.40 L214.70,581.40 L215.10,581.40 L215.50,581.40 L215.90,581.40 L216.30,581.40 L216.70,581.40 L217.10,581.40 L217.50,581.40 L217.90,581.40 L218.30,581.40 L218.70,581.40 L219.10,581.40 L219.50,581.40 L219.90,581.40 L220.30,581.40 L220.70,581.40 L221.10,581.40 L221.50,581.40 L221.90,581.40 L222.30,581.40 L222.70,581.40 L223.10,581.40 L223.50,581.40 L223.90,581.40 L224.30,581.40 L224.70,581.40 L225.10,581.40 L225.50,581.40 L225.90,581.40 L226.30,581.40 L226.70,581.40 L227.1,581.4 L151.9,581.4 Z" fill="#f2b2b2" stroke="none"/>
<path d="M151.90,580.63 L152.30,579.42 L152.70,578.30 L153.10,578.63 L153.50,579.84 L153.90,580.54 L154.30,580.62 L154.70,580.48 L155.10,580.29 L155.50,580.06 L155.90,579.78 L156.30,579.46 L156.70,579.09 L157.10,578.65 L157.50,578.15 L157.90,577.58 L158.30,576.92 L158.70,576.17 L159.10,575.32 L159.50,574.37 L159.90,573.31 L160.30,572.12 L160.70,570.81 L161.10,569.37 L161.50,567.79 L161.90,566.07 L162.30,564.21 L162.70,562.21 L163.10,560.07 L163.50,557.80 L163.90,555.41 L164.30,552.90 L164.70,550.28 L165.10,547.58 L165.50,544.80 L165.90,541.97 L166.30,539.11 L166.70,536.25 L167.10,533.40 L167.50,530.60 L167.90,527.88 L168.30,525.26 L168.70,522.78 L169.10,520.45 L169.50,518.32 L169.90,516.39 L170.30,514.71 L170.70,513.29 L171.10,512.14 L171.50,511.29 L171.90,515.71 L172.30,515.47 L172.70,515.66 L173.10,511.58 L173.50,513.13 L173.90,515.31 L174.30,518.06 L174.70,521.30 L175.10,524.94 L175.50,528.89 L175.90,533.05 L176.30,537.32 L176.70,541.62 L177.10,545.85 L177.50,549.95 L177.90,553.85 L178.30,557.51 L178.70,560.89 L179.10,563.97 L179.50,566.73 L179.90,569.18 L180.30,571.32 L180.70,573.16 L181.10,574.74 L181.50,576.07 L181.90,577.18 L182.30,578.08 L182.70,578.82 L183.10,579.42 L183.50,579.89 L183.90,580.26 L184.30,580.55 L184.70,580.77 L185.10,580.94 L185.50,581.07 L185.90,581.16 L186.30,581.23 L186.70,581.28 L187.10,581.32 L187.50,581.34 L187.90,581.36 L188.30,581.37 L188.70,581.38 L189.10,581.39 L189.50,581.39 L189.90,581.40 L190.30,581.40 L190.70,581.40 L191.10,581.40 L191.50,581.40 L191.90,581.40 L192.30,581.40 L192.70,581.40 L193.10,581.40 L193.50,581.40 L193.90,581.40 L194.30,581.40 L194.70,581.40 L195.10,581.40 L195.50,581.40 L195.90,581.40 L196.30,581.40 L196.70,581.40 L197.10,581.40 L197.50,581.40 L197.90,581.40 L198.30,581.40 L198.70,581.40 L199.10,581.40 L199.50,581.40 L199.90,581.40 L200.30,581.40 L200.70,581.40 L201.10,581.40 L201.50,581.40 L201.90,581.40 L202.30,581.40 L202.70,581.40 L203.10,581.40 L203.50,581.40 L203.90,581.40 L204.30,581.40 L204.70,581.40 L205.10,581.40 L205.50,581.40 L205.90,581.40 L206.30,581.40 L206.70,581.40 L207.10,581.40 L207.50,581.40 L207.90,581.40 L208.30,581.40 L208.70,581.40 L209.10,581.40 L209.50,581.40 L209.90,581.40 L210.30,581.40 L210.70,581.40 L211.10,581.40 L211.50,581.40 L211.90,581.40 L212.30,581.40 L212.70,581.40 L213.10,581.40 L213.50,581.40 L213.90,581.40 L214.30,581.40 L214.70,581.40 L215.10,581.40 L215.50,581.40 L215.90,581.40 L216.30,581.40 L216.70,581.40 L217.10,581.40 L217.50,581.40 L217.90,581.40 L218.30,581.40 L218.70,581.40 L219.10,581.40 L219.50,581.40 L219.90,581.40 L220.30,581.40 L220.70,581.40 L221.10,581.40 L221.50,581.40 L221.90,581.40 L222.30,581.40 L222.70,581.40 L223.10,581.40 L223.50,581.40 L223.90,581.40 L224.30,581.40 L224.70,581.40 L225.10,581.40 L225.50,581.40 L225.90,581.40 L226.30,581.40 L226.70,581.40" fill="none" stroke="#2424b8" stroke-width="1.2" stroke-linejoin="round"/>
<path d="M151.90,581.40 L152.30,581.40 L152.70,581.40 L153.10,581.40 L153.50,581.40 L153.90,581.40 L154.30,581.40 L154.70,581.40 L155.10,581.40 L155.50,581.40 L155.90,581.40 L156.30,581.40 L156.70,581.40 L157.10,581.40 L157.50,581.40 L157.90,581.40 L158.30,581.40 L158.70,581.40 L159.10,581.40 L159.50,581.40 L159.90,581.40 L160.30,581.40 L160.70,581.40 L161.10,581.40 L161.50,581.40 L161.90,581.40 L162.30,581.40 L162.70,581.40 L163.10,581.40 L163.50,581.40 L163.90,581.40 L164.30,581.40 L164.70,581.40 L165.10,581.40 L165.50,581.40 L165.90,581.40 L166.30,581.40 L166.70,581.40 L167.10,581.40 L167.50,581.39 L167.90,581.39 L168.30,581.39 L168.70,581.38 L169.10,581.37 L169.50,581.35 L169.90,581.34 L170.30,581.31 L170.70,581.28 L171.10,581.23 L171.50,581.17 L171.90,581.10 L172.30,581.01 L172.70,580.90 L173.10,580.76 L173.50,580.59 L173.90,580.40 L174.30,580.18 L174.70,579.92 L175.10,579.64 L175.50,579.32 L175.90,578.99 L176.30,578.63 L176.70,578.26 L177.10,577.89 L177.50,577.53 L177.90,577.18 L178.30,576.86 L178.70,576.57 L179.10,576.32 L179.50,576.12 L179.90,575.96 L180.30,575.84 L180.70,575.84 L181.10,576.02 L181.50,576.32 L181.90,576.62 L182.30,576.83 L182.70,576.82 L183.10,576.51 L183.50,575.81 L183.90,574.68 L184.30,573.05 L184.70,570.91 L185.10,568.23 L185.50,565.01 L185.90,561.24 L186.30,556.97 L186.70,552.24 L187.10,547.15 L187.50,541.80 L187.90,536.35 L188.30,530.97 L188.70,525.84 L189.10,521.18 L189.50,517.17 L189.90,513.98 L190.30,511.77 L190.70,510.64 L191.10,510.62 L191.50,511.60 L191.90,513.50 L192.30,516.26 L192.70,519.77 L193.10,523.89 L193.50,528.47 L193.90,533.36 L194.30,538.40 L194.70,543.43 L195.10,548.34 L195.50,553.01 L195.90,557.35 L196.30,561.31 L196.70,564.85 L197.10,567.95 L197.50,570.63 L197.90,572.88 L198.30,574.76 L198.70,576.30 L199.10,577.53 L199.50,578.51 L199.90,579.27 L200.30,579.85 L200.70,580.29 L201.10,580.61 L201.50,580.85 L201.90,581.02 L202.30,581.14 L202.70,581.23 L203.10,581.29 L203.50,581.33 L203.90,581.35 L204.30,581.37 L204.70,581.38 L205.10,581.39 L205.50,581.39 L205.90,581.40 L206.30,581.40 L206.70,581.40 L207.10,581.40 L207.50,581.40 L207.90,581.40 L208.30,581.40 L208.70,581.40 L209.10,581.40 L209.50,581.40 L209.90,581.40 L210.30,581.40 L210.70,581.40 L211.10,581.40 L211.50,581.40 L211.90,581.40 L212.30,581.40 L212.70,581.40 L213.10,581.40 L213.50,581.40 L213.90,581.40 L214.30,581.40 L214.70,581.40 L215.10,581.40 L215.50,581.40 L215.90,581.40 L216.30,581.40 L216.70,581.40 L217.10,581.40 L217.50,581.40 L217.90,581.40 L218.30,581.40 L218.70,581.40 L219.10,581.40 L219.50,581.40 L219.90,581.40 L220.30,581.40 L220.70,581.40 L221.10,581.40 L221.50,581.40 L221.90,581.40 L222.30,581.40 L222.70,581.40 L223.10,581.40 L223.50,581.40 L223.90,581.40 L224.30,581.40 L224.70,581.40 L225.10,581.40 L225.50,581.40 L225.90,581.40 L226.30,581.40 L226.70,581.40" fill="none" stroke="#c21c1c" stroke-width="1.2" stroke-linejoin="round"/>
<text x="154.0" y="525.3" font-size="8.9" text-anchor="start" font-weight="normal" fill="#2c2c84" >CTRL</text>
<text x="196.4" y="525.3" font-size="8.9" text-anchor="start" font-weight="normal" fill="#b02c2c" >MV151</text>
<text x="149.6" y="583.0" font-size="4.3" text-anchor="end" font-weight="normal" fill="#111" stroke="#111" stroke-width="0.12">0</text>
<text x="149.6" y="568.82" font-size="4.3" text-anchor="end" font-weight="normal" fill="#111" stroke="#111" stroke-width="0.12">20</text>
<text x="149.6" y="554.64" font-size="4.3" text-anchor="end" font-weight="normal" fill="#111" stroke="#111" stroke-width="0.12">40</text>
<text x="149.6" y="540.46" font-size="4.3" text-anchor="end" font-weight="normal" fill="#111" stroke="#111" stroke-width="0.12">60</text>
<text x="149.6" y="526.28" font-size="4.3" text-anchor="end" font-weight="normal" fill="#111" stroke="#111" stroke-width="0.12">80</text>
<text x="149.6" y="512.1" font-size="4.3" text-anchor="end" font-weight="normal" fill="#111" stroke="#111" stroke-width="0.12">100</text>
<rect x="151.6" y="583.6" width="75.6" height="75.69999999999993" fill="#fff" stroke="#909090" stroke-width="0.8"/>
<path d="M151.90,658.70 L152.30,658.70 L152.70,658.70 L153.10,658.70 L153.50,658.70 L153.90,658.70 L154.30,658.70 L154.70,658.70 L155.10,658.70 L155.50,658.70 L155.90,658.70 L156.30,658.70 L156.70,658.70 L157.10,658.70 L157.50,658.70 L157.90,658.70 L158.30,658.70 L158.70,658.70 L159.10,658.70 L159.50,658.70 L159.90,658.70 L160.30,658.70 L160.70,658.70 L161.10,658.70 L161.50,658.70 L161.90,658.70 L162.30,658.70 L162.70,658.70 L163.10,658.70 L163.50,658.70 L163.90,658.70 L164.30,658.70 L164.70,658.70 L165.10,658.70 L165.50,658.70 L165.90,658.70 L166.30,658.70 L166.70,658.69 L167.10,658.69 L167.50,658.69 L167.90,658.68 L168.30,658.67 L168.70,658.66 L169.10,658.64 L169.50,658.62 L169.90,658.59 L170.30,658.55 L170.70,658.50 L171.10,658.43 L171.50,658.33 L171.90,658.21 L172.30,658.06 L172.70,657.86 L173.10,657.61 L173.50,657.29 L173.90,656.90 L174.30,656.42 L174.70,655.84 L175.10,655.13 L175.50,654.28 L175.90,653.27 L176.30,652.08 L176.70,650.70 L177.10,649.10 L177.50,647.28 L177.90,645.22 L178.30,642.92 L178.70,640.36 L179.10,637.56 L179.50,634.52 L179.90,631.26 L180.30,627.80 L180.70,624.19 L181.10,620.46 L181.50,616.65 L181.90,612.83 L182.30,609.06 L182.70,605.41 L183.10,601.93 L183.50,598.70 L183.90,595.79 L184.30,593.25 L184.70,591.15 L185.10,589.53 L185.50,588.43 L185.90,587.87 L186.30,587.89 L186.70,588.59 L187.10,589.98 L187.50,592.01 L187.90,594.63 L188.30,597.75 L188.70,601.30 L189.10,605.18 L189.50,609.30 L189.90,613.55 L190.30,617.85 L190.70,622.10 L191.10,626.24 L191.50,630.20 L191.90,633.92 L192.30,637.37 L192.70,640.53 L193.10,643.37 L193.50,645.89 L193.90,648.11 L194.30,650.03 L194.70,651.67 L195.10,653.06 L195.50,654.22 L195.90,655.17 L196.30,655.95 L196.70,656.58 L197.10,657.08 L197.50,657.48 L197.90,657.79 L198.30,658.02 L198.70,658.20 L199.10,658.34 L199.50,658.44 L199.90,658.52 L200.30,658.57 L200.70,658.61 L201.10,658.64 L201.50,658.66 L201.90,658.67 L202.30,658.68 L202.70,658.69 L203.10,658.69 L203.50,658.69 L203.90,658.70 L204.30,658.70 L204.70,658.70 L205.10,658.70 L205.50,658.70 L205.90,658.70 L206.30,658.70 L206.70,658.70 L207.10,658.70 L207.50,658.70 L207.90,658.70 L208.30,658.70 L208.70,658.70 L209.10,658.70 L209.50,658.70 L209.90,658.70 L210.30,658.70 L210.70,658.70 L211.10,658.70 L211.50,658.70 L211.90,658.70 L212.30,658.70 L212.70,658.70 L213.10,658.70 L213.50,658.70 L213.90,658.70 L214.30,658.70 L214.70,658.70 L215.10,658.70 L215.50,658.70 L215.90,658.70 L216.30,658.70 L216.70,658.70 L217.10,658.70 L217.50,658.70 L217.90,658.70 L218.30,658.70 L218.70,658.70 L219.10,658.70 L219.50,658.70 L219.90,658.70 L220.30,658.70 L220.70,658.70 L221.10,658.70 L221.50,658.70 L221.90,658.70 L222.30,658.70 L222.70,658.70 L223.10,658.70 L223.50,658.70 L223.90,658.70 L224.30,658.70 L224.70,658.70 L225.10,658.70 L225.50,658.70 L225.90,658.70 L226.30,658.70 L226.70,658.70 L226.89999999999998,658.6999999999999 L151.9,658.6999999999999 Z" fill="#f2b2b2" stroke="none"/>
<path d="M151.90,658.59 L152.30,658.55 L152.70,658.50 L153.10,658.44 L153.50,658.37 L153.90,658.27 L154.30,658.15 L154.70,658.00 L155.10,657.81 L155.50,657.59 L155.90,657.31 L156.30,656.97 L156.70,656.57 L157.10,656.08 L157.50,655.51 L157.90,654.83 L158.30,654.04 L158.70,653.12 L159.10,652.06 L159.50,650.85 L159.90,649.48 L160.30,647.93 L160.70,646.19 L161.10,644.27 L161.50,642.15 L161.90,639.84 L162.30,637.34 L162.70,634.65 L163.10,631.80 L163.50,628.79 L163.90,625.64 L164.30,622.39 L164.70,619.06 L165.10,615.70 L165.50,612.33 L165.90,609.01 L166.30,605.77 L166.70,602.68 M173.10,604.19 L173.50,608.25 L173.90,612.48 L174.30,616.77 L174.70,621.05 L175.10,625.22 L175.50,629.23 L175.90,633.01 L176.30,636.54 L176.70,639.77 L177.10,642.69 L177.50,645.29 L177.90,647.58 L178.30,649.58 L178.70,651.29 L179.10,652.73 L179.50,653.95 L179.90,654.95 L180.30,655.77 L180.70,656.44 L181.10,656.97 L181.50,657.39 L181.90,657.72 L182.30,657.97 L182.70,658.16 L183.10,658.31 L183.50,658.42 L183.90,658.50 L184.30,658.56 L184.70,658.60 L185.10,658.63 L185.50,658.65 L185.90,658.67 L186.30,658.68 L186.70,658.69 L187.10,658.69 L187.50,658.69 L187.90,658.70 L188.30,658.70 L188.70,658.70 L189.10,658.70 L189.50,658.70 L189.90,658.70 L190.30,658.70 L190.70,658.70 L191.10,658.70 L191.50,658.70 L191.90,658.70 L192.30,658.70 L192.70,658.70 L193.10,658.70 L193.50,658.70 L193.90,658.70 L194.30,658.70 L194.70,658.70 L195.10,658.70 L195.50,658.70 L195.90,658.70 L196.30,658.70 L196.70,658.70 L197.10,658.70 L197.50,658.70 L197.90,658.70 L198.30,658.70 L198.70,658.70 L199.10,658.70 L199.50,658.70 L199.90,658.70 L200.30,658.70 L200.70,658.70 L201.10,658.70 L201.50,658.70 L201.90,658.70 L202.30,658.70 L202.70,658.70 L203.10,658.70 L203.50,658.70 L203.90,658.70 L204.30,658.70 L204.70,658.70 L205.10,658.70 L205.50,658.70 L205.90,658.70 L206.30,658.70 L206.70,658.70 L207.10,658.70 L207.50,658.70 L207.90,658.70 L208.30,658.70 L208.70,658.70 L209.10,658.70 L209.50,658.70 L209.90,658.70 L210.30,658.70 L210.70,658.70 L211.10,658.70 L211.50,658.70 L211.90,658.70 L212.30,658.70 L212.70,658.70 L213.10,658.70 L213.50,658.70 L213.90,658.70 L214.30,658.70 L214.70,658.70 L215.10,658.70 L215.50,658.70 L215.90,658.70 L216.30,658.70 L216.70,658.70 L217.10,658.70 L217.50,658.70 L217.90,658.70 L218.30,658.70 L218.70,658.70 L219.10,658.70 L219.50,658.70 L219.90,658.70 L220.30,658.70 L220.70,658.70 L221.10,658.70 L221.50,658.70 L221.90,658.70 L222.30,658.70 L222.70,658.70 L223.10,658.70 L223.50,658.70 L223.90,658.70 L224.30,658.70 L224.70,658.70 L225.10,658.70 L225.50,658.70 L225.90,658.70 L226.30,658.70 L226.70,658.70" fill="none" stroke="#3a3acc" stroke-width="0.9" stroke-linejoin="round"/>
<path d="M151.90,658.70 L152.30,658.70 L152.70,658.70 L153.10,658.70 L153.50,658.70 L153.90,658.70 L154.30,658.70 L154.70,658.70 L155.10,658.70 L155.50,658.70 L155.90,658.70 L156.30,658.70 L156.70,658.70 L157.10,658.70 L157.50,658.70 L157.90,658.70 L158.30,658.70 L158.70,658.70 L159.10,658.70 L159.50,658.70 L159.90,658.70 L160.30,658.70 L160.70,658.70 L161.10,658.70 L161.50,658.70 L161.90,658.70 L162.30,658.70 L162.70,658.70 L163.10,658.70 L163.50,658.70 L163.90,658.70 L164.30,658.70 L164.70,658.70 L165.10,658.70 L165.50,658.70 L165.90,658.70 L166.30,658.70 L166.70,658.69 L167.10,658.69 L167.50,658.69 L167.90,658.68 L168.30,658.67 L168.70,658.66 L169.10,658.64 L169.50,658.62 L169.90,658.59 L170.30,658.55 L170.70,658.50 L171.10,658.43 L171.50,658.33 L171.90,658.21 L172.30,658.06 L172.70,657.86 L173.10,657.61 L173.50,657.29 L173.90,656.90 L174.30,656.42 L174.70,655.84 L175.10,655.13 L175.50,654.28 L175.90,653.27 L176.30,652.08 L176.70,650.70 L177.10,649.10 L177.50,647.28 L177.90,645.22 L178.30,642.92 L178.70,640.36 L179.10,637.56 L179.50,634.52 L179.90,631.26 L180.30,627.80 L180.70,624.19 L181.10,620.46 L181.50,616.65 L181.90,612.83 L182.30,609.06 L182.70,605.41 L183.10,601.93 L183.50,598.70 L183.90,595.79 L184.30,593.25 L184.70,591.15 L185.10,589.53 L185.50,588.43 L185.90,587.87 L186.30,587.89 L186.70,588.59 L187.10,589.98 L187.50,592.01 L187.90,594.63 L188.30,597.75 L188.70,601.30 L189.10,605.18 L189.50,609.30 L189.90,613.55 L190.30,617.85 L190.70,622.10 L191.10,626.24 L191.50,630.20 L191.90,633.92 L192.30,637.37 L192.70,640.53 L193.10,643.37 L193.50,645.89 L193.90,648.11 L194.30,650.03 L194.70,651.67 L195.10,653.06 L195.50,654.22 L195.90,655.17 L196.30,655.95 L196.70,656.58 L197.10,657.08 L197.50,657.48 L197.90,657.79 L198.30,658.02 L198.70,658.20 L199.10,658.34 L199.50,658.44 L199.90,658.52 L200.30,658.57 L200.70,658.61 L201.10,658.64 L201.50,658.66 L201.90,658.67 L202.30,658.68 L202.70,658.69 L203.10,658.69 L203.50,658.69 L203.90,658.70 L204.30,658.70 L204.70,658.70 L205.10,658.70 L205.50,658.70 L205.90,658.70 L206.30,658.70 L206.70,658.70 L207.10,658.70 L207.50,658.70 L207.90,658.70 L208.30,658.70 L208.70,658.70 L209.10,658.70 L209.50,658.70 L209.90,658.70 L210.30,658.70 L210.70,658.70 L211.10,658.70 L211.50,658.70 L211.90,658.70 L212.30,658.70 L212.70,658.70 L213.10,658.70 L213.50,658.70 L213.90,658.70 L214.30,658.70 L214.70,658.70 L215.10,658.70 L215.50,658.70 L215.90,658.70 L216.30,658.70 L216.70,658.70 L217.10,658.70 L217.50,658.70 L217.90,658.70 L218.30,658.70 L218.70,658.70 L219.10,658.70 L219.50,658.70 L219.90,658.70 L220.30,658.70 L220.70,658.70 L221.10,658.70 L221.50,658.70 L221.90,658.70 L222.30,658.70 L222.70,658.70 L223.10,658.70 L223.50,658.70 L223.90,658.70 L224.30,658.70 L224.70,658.70 L225.10,658.70 L225.50,658.70 L225.90,658.70 L226.30,658.70 L226.70,658.70" fill="none" stroke="#c21c1c" stroke-width="1.2" stroke-linejoin="round"/>
<text x="154.0" y="599.8" font-size="8.9" text-anchor="start" font-weight="normal" fill="#2c2c84" >CTRL</text>
<text x="194.3" y="599.8" font-size="8.9" text-anchor="start" font-weight="normal" fill="#b02c2c" >MV151</text>
<text x="149.6" y="660.3" font-size="4.3" text-anchor="end" font-weight="normal" fill="#111" stroke="#111" stroke-width="0.12">0</text>
<text x="149.6" y="646.12" font-size="4.3" text-anchor="end" font-weight="normal" fill="#111" stroke="#111" stroke-width="0.12">20</text>
<text x="149.6" y="631.94" font-size="4.3" text-anchor="end" font-weight="normal" fill="#111" stroke="#111" stroke-width="0.12">40</text>
<text x="149.6" y="617.76" font-size="4.3" text-anchor="end" font-weight="normal" fill="#111" stroke="#111" stroke-width="0.12">60</text>
<text x="149.6" y="603.58" font-size="4.3" text-anchor="end" font-weight="normal" fill="#111" stroke="#111" stroke-width="0.12">80</text>
<text x="149.6" y="589.4000000000001" font-size="4.3" text-anchor="end" font-weight="normal" fill="#111" stroke="#111" stroke-width="0.12">100</text>
<path d="M169.2,591.6 L170.2,588.0 L171.2,591.6" fill="none" stroke="#3a3acc" stroke-width="0.9"/>
<text x="172.8" y="668.0" font-size="4.4" text-anchor="middle" fill="#111" stroke="#111" stroke-width="0.12">10<tspan dy="-1.76" font-size="3.08">2</tspan></text>
<text x="188.6" y="668.0" font-size="4.4" text-anchor="middle" fill="#111" stroke="#111" stroke-width="0.12">10<tspan dy="-1.76" font-size="3.08">3</tspan></text>
<text x="204.8" y="668.0" font-size="4.4" text-anchor="middle" fill="#111" stroke="#111" stroke-width="0.12">10<tspan dy="-1.76" font-size="3.08">4</tspan></text>
<text x="220.4" y="668.0" font-size="4.4" text-anchor="middle" fill="#111" stroke="#111" stroke-width="0.12">10<tspan dy="-1.76" font-size="3.08">5</tspan></text>
<text x="166.4" y="668.0" font-size="4.3" text-anchor="middle" font-weight="normal" fill="#111" stroke="#111" stroke-width="0.12">0</text>
<text x="188.1" y="678.8" font-size="10.35" text-anchor="middle" font-weight="normal" fill="#111" >MV151</text>
</g>
<g id="panelD">
<text x="346.8" y="15.8" font-size="12.6" text-anchor="start" font-weight="bold" fill="#000" >D</text>
<text x="449.4" y="32.9" font-size="11.1" text-anchor="middle" font-weight="normal" fill="#111" >Ter119+ Nucleated</text>
<line x1="392.0" y1="47.0" x2="392.0" y2="127.19999999999999" stroke="#111" stroke-width="1.2"/>
<line x1="391.4" y1="126.6" x2="511.8" y2="126.6" stroke="#111" stroke-width="1.2"/>
<line x1="389.0" y1="47.5" x2="392.0" y2="47.5" stroke="#111" stroke-width="1"/>
<text x="388.8" y="50.596" font-size="8.6" text-anchor="end" font-weight="normal" fill="#111" >1250</text>
<line x1="389.0" y1="63.3" x2="392.0" y2="63.3" stroke="#111" stroke-width="1"/>
<text x="388.8" y="66.396" font-size="8.6" text-anchor="end" font-weight="normal" fill="#111" >1000</text>
<line x1="389.0" y1="79.1" x2="392.0" y2="79.1" stroke="#111" stroke-width="1"/>
<text x="388.8" y="82.196" font-size="8.6" text-anchor="end" font-weight="normal" fill="#111" >750</text>
<line x1="389.0" y1="95.0" x2="392.0" y2="95.0" stroke="#111" stroke-width="1"/>
<text x="388.8" y="98.096" font-size="8.6" text-anchor="end" font-weight="normal" fill="#111" >500</text>
<line x1="389.0" y1="110.8" x2="392.0" y2="110.8" stroke="#111" stroke-width="1"/>
<text x="388.8" y="113.896" font-size="8.6" text-anchor="end" font-weight="normal" fill="#111" >250</text>
<line x1="389.0" y1="126.6" x2="392.0" y2="126.6" stroke="#111" stroke-width="1"/>
<text x="388.8" y="129.696" font-size="8.6" text-anchor="end" font-weight="normal" fill="#111" >0</text>
<line x1="422.8" y1="126.6" x2="422.8" y2="129.8" stroke="#111" stroke-width="1"/>
<line x1="481.7" y1="126.6" x2="481.7" y2="129.8" stroke="#111" stroke-width="1"/>
<text x="423.1" y="141.2" font-size="11.1" text-anchor="middle" font-weight="normal" fill="#111" >+/+</text>
<text x="484.7" y="141.0" font-size="11.1" text-anchor="middle" font-weight="normal" fill="#111" >TH3/+</text>
<text transform="translate(365.0,85.3) rotate(-90)" font-size="9.5" text-anchor="middle" fill="#111">MV151 MFI (± SD)</text>
<text x="469.2" y="104.2" font-size="11.1" text-anchor="middle" font-weight="normal" fill="#111" >p = 0.0001</text>
<rect x="412.5" y="69.8" width="20.2" height="3.5" fill="#8a8a8a"/>
<line x1="402.3" y1="71.5" x2="442.2" y2="71.5" stroke="#222" stroke-width="1"/>
<rect x="421.2" y="68.7" width="3.4" height="6.3" fill="#000"/>
<line x1="461.1" y1="58.4" x2="501.8" y2="58.4" stroke="#111" stroke-width="1"/>
<line x1="471.5" y1="56.1" x2="491.9" y2="56.1" stroke="#111" stroke-width="0.8"/>
<line x1="471.5" y1="61.5" x2="491.9" y2="61.5" stroke="#111" stroke-width="0.8"/>
<line x1="481.9" y1="56.1" x2="481.9" y2="63.5" stroke="#111" stroke-width="0.9"/>
<path d="M481.9,57.4 l1.6,2.6 h-3.2 z M481.9,61.2 l1.6,2.8 h-3.2 z" fill="#000"/>
<text x="449.9" y="181.8" font-size="11.1" text-anchor="middle" font-weight="normal" fill="#111" >Ter119+ Enucleated</text>
<line x1="394.6" y1="193.9" x2="394.6" y2="274.1" stroke="#111" stroke-width="1.2"/>
<line x1="394.0" y1="273.5" x2="515.3" y2="273.5" stroke="#111" stroke-width="1.2"/>
<line x1="391.6" y1="194.4" x2="394.6" y2="194.4" stroke="#111" stroke-width="1"/>
<text x="391.40000000000003" y="197.496" font-size="8.6" text-anchor="end" font-weight="normal" fill="#111" >1250</text>
<line x1="391.6" y1="210.2" x2="394.6" y2="210.2" stroke="#111" stroke-width="1"/>
<text x="391.40000000000003" y="213.296" font-size="8.6" text-anchor="end" font-weight="normal" fill="#111" >1000</text>
<line x1="391.6" y1="226.0" x2="394.6" y2="226.0" stroke="#111" stroke-width="1"/>
<text x="391.40000000000003" y="229.096" font-size="8.6" text-anchor="end" font-weight="normal" fill="#111" >750</text>
<line x1="391.6" y1="241.9" x2="394.6" y2="241.9" stroke="#111" stroke-width="1"/>
<text x="391.40000000000003" y="244.996" font-size="8.6" text-anchor="end" font-weight="normal" fill="#111" >500</text>
<line x1="391.6" y1="257.7" x2="394.6" y2="257.7" stroke="#111" stroke-width="1"/>
<text x="391.40000000000003" y="260.796" font-size="8.6" text-anchor="end" font-weight="normal" fill="#111" >250</text>
<line x1="391.6" y1="273.5" x2="394.6" y2="273.5" stroke="#111" stroke-width="1"/>
<text x="391.40000000000003" y="276.596" font-size="8.6" text-anchor="end" font-weight="normal" fill="#111" >0</text>
<line x1="425.2" y1="273.5" x2="425.2" y2="276.7" stroke="#111" stroke-width="1"/>
<line x1="485.4" y1="273.5" x2="485.4" y2="276.7" stroke="#111" stroke-width="1"/>
<text x="424.3" y="287.5" font-size="11.1" text-anchor="middle" font-weight="normal" fill="#111" >+/+</text>
<text x="484.7" y="287.7" font-size="11.1" text-anchor="middle" font-weight="normal" fill="#111" >TH3/+</text>
<text transform="translate(365.0,230) rotate(-90)" font-size="9.5" text-anchor="middle" fill="#111">MV151 MFI (± SD)</text>
<text x="468.1" y="257.7" font-size="11.1" text-anchor="middle" font-weight="normal" fill="#111" >p = 0.0001</text>
<rect x="415.3" y="234.7" width="20.2" height="3.2" fill="#444"/>
<line x1="405" y1="236.3" x2="445.5" y2="236.3" stroke="#222" stroke-width="1"/>
<rect x="423.8" y="233.3" width="3.6" height="6.5" fill="#000"/>
<line x1="464.7" y1="221" x2="505.6" y2="221" stroke="#111" stroke-width="1"/>
<line x1="475.5" y1="217.9" x2="495.7" y2="217.9" stroke="#111" stroke-width="0.8"/>
<line x1="475.5" y1="224" x2="495.7" y2="224" stroke="#111" stroke-width="0.8"/>
<line x1="485.8" y1="217.9" x2="485.8" y2="226" stroke="#111" stroke-width="0.9"/>
<path d="M485.8,218 l1.6,2.6 h-3.2 z M485.8,223.4 l1.6,2.8 h-3.2 z" fill="#000"/>
</g>
<g id="panelE">
<text x="346.8" y="357.3" font-size="12.6" text-anchor="start" font-weight="bold" fill="#000" >E</text>
<text x="452.3" y="366.8" font-size="11.2" text-anchor="middle" font-weight="normal" fill="#111" >Human Reticulocytes</text>
<line x1="391.2" y1="379.9" x2="391.2" y2="462.8" stroke="#111" stroke-width="1.2"/>
<line x1="390.59999999999997" y1="462.2" x2="516" y2="462.2" stroke="#111" stroke-width="1.2"/>
<line x1="388.2" y1="380.7" x2="391.2" y2="380.7" stroke="#111" stroke-width="1"/>
<text x="388.0" y="384.012" font-size="9.2" text-anchor="end" font-weight="normal" fill="#111" >4</text>
<line x1="388.2" y1="400.7" x2="391.2" y2="400.7" stroke="#111" stroke-width="1"/>
<text x="388.0" y="404.012" font-size="9.2" text-anchor="end" font-weight="normal" fill="#111" >3</text>
<line x1="388.2" y1="421.2" x2="391.2" y2="421.2" stroke="#111" stroke-width="1"/>
<text x="388.0" y="424.512" font-size="9.2" text-anchor="end" font-weight="normal" fill="#111" >2</text>
<line x1="388.2" y1="441.6" x2="391.2" y2="441.6" stroke="#111" stroke-width="1"/>
<text x="388.0" y="444.91200000000003" font-size="9.2" text-anchor="end" font-weight="normal" fill="#111" >1</text>
<line x1="388.2" y1="462.2" x2="391.2" y2="462.2" stroke="#111" stroke-width="1"/>
<text x="388.0" y="465.512" font-size="9.2" text-anchor="end" font-weight="normal" fill="#111" >0</text>
<line x1="422.9" y1="462.2" x2="422.9" y2="465.4" stroke="#111" stroke-width="1"/>
<line x1="484.4" y1="462.2" x2="484.4" y2="465.4" stroke="#111" stroke-width="1"/>
<text x="420.2" y="478" font-size="11.2" text-anchor="middle" font-weight="normal" fill="#111" >Control</text>
<text x="483.7" y="478" font-size="11.1" text-anchor="middle" font-weight="normal" fill="#111" >Thalassemia</text>
<text transform="translate(368.6,417) rotate(-90)" font-size="9.6" text-anchor="middle" fill="#111">MV151 Normalized MFI</text>
<text x="430.5" y="395" font-size="11.299999999999999" text-anchor="middle" font-weight="normal" fill="#111" >p = 0.0075</text>
<line x1="402.2" y1="441.5" x2="443.7" y2="441.5" stroke="#222" stroke-width="1"/>
<rect x="411.7" y="438.5" width="3" height="3" fill="#000"/>
<rect x="416.5" y="440.7" width="3" height="3" fill="#000"/>
<rect x="421.6" y="442.5" width="3" height="3" fill="#000"/>
<rect x="426.9" y="441.1" width="3" height="3" fill="#000"/>
<rect x="431.9" y="439.6" width="3" height="3" fill="#000"/>
<line x1="464" y1="409.6" x2="505.7" y2="409.6" stroke="#222" stroke-width="1.15"/>
<path d="M485.3,386.0 l1.9,3.5 h-3.8 z" fill="#000"/>
<path d="M485.3,399.6 l1.9,3.5 h-3.8 z" fill="#000"/>
<path d="M485.3,421.6 l1.9,3.5 h-3.8 z" fill="#000"/>
<path d="M485.3,427.6 l1.9,3.5 h-3.8 z" fill="#000"/>
</g>
</svg>
</body></html>
